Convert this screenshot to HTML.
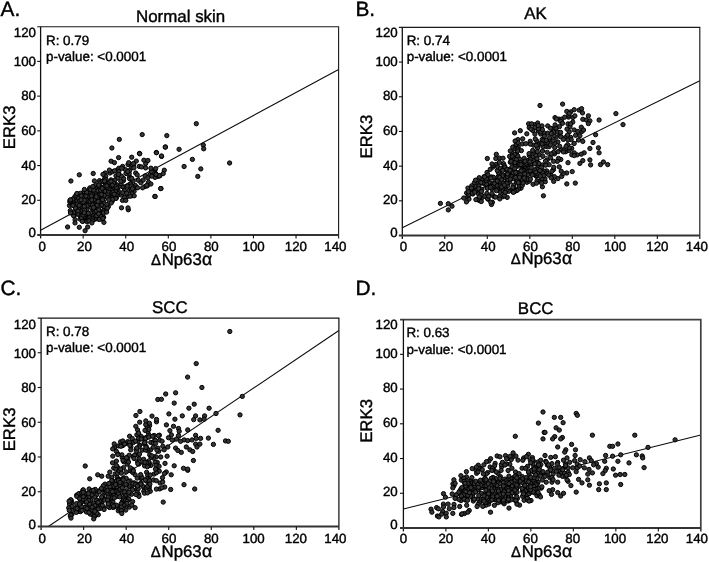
<!DOCTYPE html>
<html><head><meta charset="utf-8"><title>Figure</title>
<style>
html,body{margin:0;padding:0;background:#fff;}
body{width:709px;height:562px;overflow:hidden;font-family:"Liberation Sans",sans-serif;}
svg{display:block;filter:grayscale(1);}
text{font-family:"Liberation Sans",sans-serif;fill:#000;stroke:#000;stroke-width:0.4px;text-rendering:geometricPrecision;}
.tk{font-size:13.3px;}
.an{font-size:13.4px;}
.ti{font-size:16.9px;}
.ax{font-size:16.8px;}
.le{font-size:20.8px;}
.d circle{fill:#363636;stroke:#000;stroke-width:1.0;}
</style></head><body>
<svg width="709" height="562" viewBox="0 0 709 562">
<rect width="709" height="562" fill="#fff"/>

<g id="pA">
<line x1="40.60" y1="230.31" x2="338.60" y2="69.58" stroke="#0a0a0a" stroke-width="1.05"/>
<g class="d">
<circle cx="110.0" cy="183.8" r="2.15"/>
<circle cx="136.6" cy="187.4" r="2.15"/>
<circle cx="126.9" cy="196.7" r="2.15"/>
<circle cx="139.2" cy="166.4" r="2.15"/>
<circle cx="135.7" cy="173.0" r="2.15"/>
<circle cx="121.4" cy="195.1" r="2.15"/>
<circle cx="124.4" cy="187.4" r="2.15"/>
<circle cx="129.6" cy="176.8" r="2.15"/>
<circle cx="135.3" cy="185.5" r="2.15"/>
<circle cx="141.5" cy="166.9" r="2.15"/>
<circle cx="134.1" cy="191.3" r="2.15"/>
<circle cx="122.6" cy="166.4" r="2.15"/>
<circle cx="136.3" cy="161.1" r="2.15"/>
<circle cx="122.4" cy="186.7" r="2.15"/>
<circle cx="158.0" cy="176.4" r="2.15"/>
<circle cx="130.5" cy="188.2" r="2.15"/>
<circle cx="133.4" cy="187.1" r="2.15"/>
<circle cx="129.6" cy="178.8" r="2.15"/>
<circle cx="110.0" cy="173.0" r="2.15"/>
<circle cx="130.6" cy="184.0" r="2.15"/>
<circle cx="138.4" cy="180.3" r="2.15"/>
<circle cx="118.3" cy="191.0" r="2.15"/>
<circle cx="111.0" cy="179.9" r="2.15"/>
<circle cx="116.0" cy="175.8" r="2.15"/>
<circle cx="119.6" cy="186.0" r="2.15"/>
<circle cx="124.4" cy="190.6" r="2.15"/>
<circle cx="124.6" cy="197.5" r="2.15"/>
<circle cx="117.2" cy="188.5" r="2.15"/>
<circle cx="125.5" cy="169.7" r="2.15"/>
<circle cx="131.2" cy="168.2" r="2.15"/>
<circle cx="113.9" cy="194.8" r="2.15"/>
<circle cx="117.9" cy="178.1" r="2.15"/>
<circle cx="122.5" cy="200.4" r="2.15"/>
<circle cx="140.9" cy="182.7" r="2.15"/>
<circle cx="117.5" cy="169.8" r="2.15"/>
<circle cx="105.2" cy="173.0" r="2.15"/>
<circle cx="137.2" cy="174.8" r="2.15"/>
<circle cx="149.6" cy="175.3" r="2.15"/>
<circle cx="131.6" cy="195.8" r="2.15"/>
<circle cx="112.4" cy="171.6" r="2.15"/>
<circle cx="123.5" cy="180.6" r="2.15"/>
<circle cx="129.2" cy="173.7" r="2.15"/>
<circle cx="118.9" cy="168.2" r="2.15"/>
<circle cx="105.7" cy="176.2" r="2.15"/>
<circle cx="128.8" cy="190.8" r="2.15"/>
<circle cx="143.2" cy="180.1" r="2.15"/>
<circle cx="131.7" cy="190.4" r="2.15"/>
<circle cx="123.6" cy="178.5" r="2.15"/>
<circle cx="133.7" cy="164.3" r="2.15"/>
<circle cx="148.5" cy="182.3" r="2.15"/>
<circle cx="116.3" cy="184.6" r="2.15"/>
<circle cx="110.9" cy="186.9" r="2.15"/>
<circle cx="121.3" cy="176.0" r="2.15"/>
<circle cx="122.7" cy="192.8" r="2.15"/>
<circle cx="114.2" cy="190.9" r="2.15"/>
<circle cx="94.4" cy="180.9" r="2.15"/>
<circle cx="127.6" cy="186.2" r="2.15"/>
<circle cx="133.2" cy="181.0" r="2.15"/>
<circle cx="155.0" cy="177.4" r="2.15"/>
<circle cx="109.4" cy="170.1" r="2.15"/>
<circle cx="154.8" cy="170.4" r="2.15"/>
<circle cx="155.7" cy="173.6" r="2.15"/>
<circle cx="145.7" cy="163.5" r="2.15"/>
<circle cx="153.4" cy="172.6" r="2.15"/>
<circle cx="108.0" cy="185.6" r="2.15"/>
<circle cx="121.1" cy="183.8" r="2.15"/>
<circle cx="112.7" cy="189.1" r="2.15"/>
<circle cx="151.4" cy="171.5" r="2.15"/>
<circle cx="131.7" cy="164.7" r="2.15"/>
<circle cx="133.9" cy="167.8" r="2.15"/>
<circle cx="103.0" cy="174.4" r="2.15"/>
<circle cx="126.0" cy="173.5" r="2.15"/>
<circle cx="118.8" cy="171.5" r="2.15"/>
<circle cx="129.4" cy="170.7" r="2.15"/>
<circle cx="118.5" cy="174.4" r="2.15"/>
<circle cx="132.1" cy="193.8" r="2.15"/>
<circle cx="145.6" cy="167.9" r="2.15"/>
<circle cx="147.2" cy="185.9" r="2.15"/>
<circle cx="121.7" cy="168.3" r="2.15"/>
<circle cx="116.2" cy="198.2" r="2.15"/>
<circle cx="117.7" cy="195.4" r="2.15"/>
<circle cx="128.0" cy="164.5" r="2.15"/>
<circle cx="104.4" cy="181.7" r="2.15"/>
<circle cx="131.8" cy="178.4" r="2.15"/>
<circle cx="114.9" cy="180.2" r="2.15"/>
<circle cx="145.1" cy="175.9" r="2.15"/>
<circle cx="131.2" cy="186.1" r="2.15"/>
<circle cx="99.5" cy="180.7" r="2.15"/>
<circle cx="114.6" cy="170.8" r="2.15"/>
<circle cx="114.9" cy="186.5" r="2.15"/>
<circle cx="159.9" cy="175.8" r="2.15"/>
<circle cx="127.7" cy="171.6" r="2.15"/>
<circle cx="145.1" cy="186.5" r="2.15"/>
<circle cx="120.8" cy="181.3" r="2.15"/>
<circle cx="126.7" cy="193.2" r="2.15"/>
<circle cx="100.4" cy="211.6" r="2.15"/>
<circle cx="101.8" cy="219.0" r="2.15"/>
<circle cx="92.3" cy="188.4" r="2.15"/>
<circle cx="76.0" cy="214.2" r="2.15"/>
<circle cx="100.1" cy="182.7" r="2.15"/>
<circle cx="113.5" cy="186.6" r="2.15"/>
<circle cx="96.0" cy="208.6" r="2.15"/>
<circle cx="83.3" cy="193.7" r="2.15"/>
<circle cx="83.5" cy="205.1" r="2.15"/>
<circle cx="103.3" cy="192.6" r="2.15"/>
<circle cx="110.7" cy="199.3" r="2.15"/>
<circle cx="92.9" cy="209.8" r="2.15"/>
<circle cx="86.9" cy="203.9" r="2.15"/>
<circle cx="117.2" cy="192.9" r="2.15"/>
<circle cx="95.2" cy="213.1" r="2.15"/>
<circle cx="85.5" cy="205.4" r="2.15"/>
<circle cx="85.5" cy="220.1" r="2.15"/>
<circle cx="84.0" cy="191.6" r="2.15"/>
<circle cx="98.9" cy="215.5" r="2.15"/>
<circle cx="93.6" cy="216.1" r="2.15"/>
<circle cx="100.8" cy="213.7" r="2.15"/>
<circle cx="112.1" cy="190.6" r="2.15"/>
<circle cx="82.9" cy="195.7" r="2.15"/>
<circle cx="93.9" cy="192.7" r="2.15"/>
<circle cx="81.9" cy="213.4" r="2.15"/>
<circle cx="86.6" cy="213.6" r="2.15"/>
<circle cx="104.2" cy="207.9" r="2.15"/>
<circle cx="86.7" cy="209.8" r="2.15"/>
<circle cx="93.2" cy="212.9" r="2.15"/>
<circle cx="83.1" cy="221.1" r="2.15"/>
<circle cx="96.4" cy="188.5" r="2.15"/>
<circle cx="92.0" cy="215.1" r="2.15"/>
<circle cx="109.6" cy="193.1" r="2.15"/>
<circle cx="86.0" cy="216.3" r="2.15"/>
<circle cx="104.0" cy="210.5" r="2.15"/>
<circle cx="102.7" cy="196.5" r="2.15"/>
<circle cx="108.4" cy="206.6" r="2.15"/>
<circle cx="90.8" cy="207.3" r="2.15"/>
<circle cx="103.7" cy="206.4" r="2.15"/>
<circle cx="87.6" cy="205.5" r="2.15"/>
<circle cx="80.1" cy="219.1" r="2.15"/>
<circle cx="88.9" cy="189.9" r="2.15"/>
<circle cx="73.6" cy="215.8" r="2.15"/>
<circle cx="69.5" cy="205.6" r="2.15"/>
<circle cx="96.3" cy="192.7" r="2.15"/>
<circle cx="89.7" cy="214.9" r="2.15"/>
<circle cx="99.0" cy="203.2" r="2.15"/>
<circle cx="73.3" cy="203.3" r="2.15"/>
<circle cx="75.0" cy="206.3" r="2.15"/>
<circle cx="87.4" cy="197.0" r="2.15"/>
<circle cx="99.0" cy="189.0" r="2.15"/>
<circle cx="93.7" cy="196.3" r="2.15"/>
<circle cx="82.7" cy="199.1" r="2.15"/>
<circle cx="100.3" cy="197.6" r="2.15"/>
<circle cx="101.6" cy="205.1" r="2.15"/>
<circle cx="73.8" cy="212.4" r="2.15"/>
<circle cx="95.5" cy="198.6" r="2.15"/>
<circle cx="106.9" cy="204.5" r="2.15"/>
<circle cx="80.9" cy="198.2" r="2.15"/>
<circle cx="90.1" cy="203.8" r="2.15"/>
<circle cx="100.9" cy="199.4" r="2.15"/>
<circle cx="87.9" cy="195.2" r="2.15"/>
<circle cx="104.2" cy="197.1" r="2.15"/>
<circle cx="75.1" cy="199.2" r="2.15"/>
<circle cx="79.7" cy="215.2" r="2.15"/>
<circle cx="79.1" cy="207.1" r="2.15"/>
<circle cx="105.1" cy="183.1" r="2.15"/>
<circle cx="97.9" cy="211.6" r="2.15"/>
<circle cx="74.7" cy="197.0" r="2.15"/>
<circle cx="99.2" cy="199.7" r="2.15"/>
<circle cx="94.2" cy="219.5" r="2.15"/>
<circle cx="81.0" cy="212.0" r="2.15"/>
<circle cx="102.8" cy="181.1" r="2.15"/>
<circle cx="110.8" cy="183.3" r="2.15"/>
<circle cx="110.0" cy="197.1" r="2.15"/>
<circle cx="94.9" cy="204.6" r="2.15"/>
<circle cx="106.6" cy="195.3" r="2.15"/>
<circle cx="92.4" cy="218.5" r="2.15"/>
<circle cx="90.2" cy="198.6" r="2.15"/>
<circle cx="102.8" cy="190.4" r="2.15"/>
<circle cx="106.0" cy="184.4" r="2.15"/>
<circle cx="106.2" cy="210.4" r="2.15"/>
<circle cx="80.3" cy="208.3" r="2.15"/>
<circle cx="108.7" cy="196.0" r="2.15"/>
<circle cx="77.0" cy="200.6" r="2.15"/>
<circle cx="93.2" cy="203.6" r="2.15"/>
<circle cx="83.8" cy="197.8" r="2.15"/>
<circle cx="104.5" cy="179.0" r="2.15"/>
<circle cx="89.7" cy="191.5" r="2.15"/>
<circle cx="96.9" cy="218.8" r="2.15"/>
<circle cx="104.5" cy="189.3" r="2.15"/>
<circle cx="70.9" cy="212.6" r="2.15"/>
<circle cx="86.7" cy="192.3" r="2.15"/>
<circle cx="72.6" cy="201.7" r="2.15"/>
<circle cx="109.5" cy="182.3" r="2.15"/>
<circle cx="115.8" cy="198.4" r="2.15"/>
<circle cx="90.8" cy="212.8" r="2.15"/>
<circle cx="80.3" cy="193.3" r="2.15"/>
<circle cx="78.1" cy="214.1" r="2.15"/>
<circle cx="103.6" cy="217.2" r="2.15"/>
<circle cx="104.7" cy="195.5" r="2.15"/>
<circle cx="103.4" cy="201.3" r="2.15"/>
<circle cx="105.2" cy="191.2" r="2.15"/>
<circle cx="82.0" cy="210.4" r="2.15"/>
<circle cx="107.3" cy="208.2" r="2.15"/>
<circle cx="99.8" cy="186.6" r="2.15"/>
<circle cx="114.8" cy="188.0" r="2.15"/>
<circle cx="96.3" cy="195.2" r="2.15"/>
<circle cx="99.9" cy="194.9" r="2.15"/>
<circle cx="87.3" cy="218.4" r="2.15"/>
<circle cx="70.9" cy="203.3" r="2.15"/>
<circle cx="89.5" cy="196.7" r="2.15"/>
<circle cx="115.3" cy="191.0" r="2.15"/>
<circle cx="98.9" cy="207.1" r="2.15"/>
<circle cx="106.0" cy="179.7" r="2.15"/>
<circle cx="84.4" cy="216.6" r="2.15"/>
<circle cx="116.4" cy="187.5" r="2.15"/>
<circle cx="116.0" cy="194.7" r="2.15"/>
<circle cx="97.9" cy="190.7" r="2.15"/>
<circle cx="112.3" cy="201.1" r="2.15"/>
<circle cx="89.8" cy="187.9" r="2.15"/>
<circle cx="72.6" cy="199.2" r="2.15"/>
<circle cx="108.0" cy="193.7" r="2.15"/>
<circle cx="88.3" cy="213.3" r="2.15"/>
<circle cx="98.9" cy="219.1" r="2.15"/>
<circle cx="89.4" cy="217.8" r="2.15"/>
<circle cx="79.0" cy="196.5" r="2.15"/>
<circle cx="92.3" cy="190.2" r="2.15"/>
<circle cx="104.6" cy="181.0" r="2.15"/>
<circle cx="101.5" cy="194.4" r="2.15"/>
<circle cx="80.3" cy="203.4" r="2.15"/>
<circle cx="96.3" cy="211.1" r="2.15"/>
<circle cx="88.1" cy="220.1" r="2.15"/>
<circle cx="96.7" cy="215.7" r="2.15"/>
<circle cx="86.1" cy="200.0" r="2.15"/>
<circle cx="78.5" cy="198.1" r="2.15"/>
<circle cx="81.4" cy="215.7" r="2.15"/>
<circle cx="81.5" cy="217.9" r="2.15"/>
<circle cx="114.9" cy="185.1" r="2.15"/>
<circle cx="81.5" cy="206.3" r="2.15"/>
<circle cx="100.9" cy="216.4" r="2.15"/>
<circle cx="81.3" cy="195.9" r="2.15"/>
<circle cx="90.6" cy="189.6" r="2.15"/>
<circle cx="84.7" cy="214.8" r="2.15"/>
<circle cx="90.9" cy="219.8" r="2.15"/>
<circle cx="93.9" cy="190.1" r="2.15"/>
<circle cx="76.2" cy="209.5" r="2.15"/>
<circle cx="70.3" cy="210.6" r="2.15"/>
<circle cx="113.8" cy="183.0" r="2.15"/>
<circle cx="69.8" cy="201.9" r="2.15"/>
<circle cx="107.5" cy="197.6" r="2.15"/>
<circle cx="103.9" cy="187.0" r="2.15"/>
<circle cx="91.3" cy="196.0" r="2.15"/>
<circle cx="103.5" cy="212.9" r="2.15"/>
<circle cx="72.6" cy="205.2" r="2.15"/>
<circle cx="95.9" cy="184.8" r="2.15"/>
<circle cx="83.1" cy="215.1" r="2.15"/>
<circle cx="83.9" cy="208.6" r="2.15"/>
<circle cx="113.0" cy="192.2" r="2.15"/>
<circle cx="97.6" cy="198.0" r="2.15"/>
<circle cx="98.7" cy="185.0" r="2.15"/>
<circle cx="100.6" cy="190.1" r="2.15"/>
<circle cx="112.3" cy="185.1" r="2.15"/>
<circle cx="114.2" cy="194.2" r="2.15"/>
<circle cx="102.3" cy="188.2" r="2.15"/>
<circle cx="108.6" cy="191.2" r="2.15"/>
<circle cx="70.0" cy="200.2" r="2.15"/>
<circle cx="109.1" cy="187.2" r="2.15"/>
<circle cx="108.8" cy="188.7" r="2.15"/>
<circle cx="87.0" cy="221.7" r="2.15"/>
<circle cx="84.3" cy="206.5" r="2.15"/>
<circle cx="98.8" cy="209.8" r="2.15"/>
<circle cx="92.1" cy="202.4" r="2.15"/>
<circle cx="97.1" cy="205.2" r="2.15"/>
<circle cx="92.4" cy="205.0" r="2.15"/>
<circle cx="75.5" cy="208.1" r="2.15"/>
<circle cx="107.3" cy="187.4" r="2.15"/>
<circle cx="92.3" cy="220.8" r="2.15"/>
<circle cx="84.6" cy="210.3" r="2.15"/>
<circle cx="93.6" cy="207.6" r="2.15"/>
<circle cx="84.4" cy="200.2" r="2.15"/>
<circle cx="84.2" cy="212.8" r="2.15"/>
<circle cx="90.1" cy="201.2" r="2.15"/>
<circle cx="100.3" cy="201.3" r="2.15"/>
<circle cx="112.5" cy="199.4" r="2.15"/>
<circle cx="79.4" cy="201.0" r="2.15"/>
<circle cx="106.6" cy="212.1" r="2.15"/>
<circle cx="86.0" cy="196.1" r="2.15"/>
<circle cx="108.8" cy="199.9" r="2.15"/>
<circle cx="94.1" cy="199.7" r="2.15"/>
<circle cx="105.1" cy="185.9" r="2.15"/>
<circle cx="77.3" cy="204.0" r="2.15"/>
<circle cx="98.7" cy="213.8" r="2.15"/>
<circle cx="79.2" cy="205.4" r="2.15"/>
<circle cx="81.1" cy="199.9" r="2.15"/>
<circle cx="98.2" cy="201.5" r="2.15"/>
<circle cx="111.0" cy="181.3" r="2.15"/>
<circle cx="78.0" cy="211.0" r="2.15"/>
<circle cx="96.3" cy="196.8" r="2.15"/>
<circle cx="75.1" cy="219.7" r="2.15"/>
<circle cx="91.8" cy="200.0" r="2.15"/>
<circle cx="102.6" cy="199.7" r="2.15"/>
<circle cx="111.2" cy="203.0" r="2.15"/>
<circle cx="106.8" cy="185.9" r="2.15"/>
<circle cx="76.0" cy="195.2" r="2.15"/>
<circle cx="111.9" cy="148.0" r="2.15"/>
<circle cx="165.5" cy="147.0" r="2.15"/>
<circle cx="139.5" cy="153.4" r="2.15"/>
<circle cx="156.3" cy="152.5" r="2.15"/>
<circle cx="161.6" cy="156.4" r="2.15"/>
<circle cx="118.6" cy="157.6" r="2.15"/>
<circle cx="111.1" cy="161.2" r="2.15"/>
<circle cx="114.4" cy="162.6" r="2.15"/>
<circle cx="79.3" cy="174.8" r="2.15"/>
<circle cx="93.2" cy="173.5" r="2.15"/>
<circle cx="70.9" cy="181.0" r="2.15"/>
<circle cx="161.0" cy="188.5" r="2.15"/>
<circle cx="154.9" cy="196.4" r="2.15"/>
<circle cx="121.5" cy="207.8" r="2.15"/>
<circle cx="128.3" cy="209.8" r="2.15"/>
<circle cx="67.6" cy="227.0" r="2.15"/>
<circle cx="79.3" cy="227.3" r="2.15"/>
<circle cx="85.1" cy="230.7" r="2.15"/>
<circle cx="87.7" cy="227.0" r="2.15"/>
<circle cx="196.3" cy="123.7" r="2.15"/>
<circle cx="142.2" cy="134.6" r="2.15"/>
<circle cx="166.8" cy="135.6" r="2.15"/>
<circle cx="165.2" cy="147.1" r="2.15"/>
<circle cx="179.1" cy="149.3" r="2.15"/>
<circle cx="203.3" cy="145.1" r="2.15"/>
<circle cx="203.7" cy="148.8" r="2.15"/>
<circle cx="156.5" cy="152.7" r="2.15"/>
<circle cx="139.7" cy="153.8" r="2.15"/>
<circle cx="161.5" cy="156.0" r="2.15"/>
<circle cx="192.4" cy="159.4" r="2.15"/>
<circle cx="229.6" cy="163.0" r="2.15"/>
<circle cx="184.1" cy="166.5" r="2.15"/>
<circle cx="200.8" cy="168.9" r="2.15"/>
<circle cx="197.8" cy="176.4" r="2.15"/>
<circle cx="131.7" cy="157.2" r="2.15"/>
<circle cx="143.9" cy="160.2" r="2.15"/>
<circle cx="147.9" cy="160.5" r="2.15"/>
<circle cx="128.7" cy="162.7" r="2.15"/>
<circle cx="133.4" cy="163.5" r="2.15"/>
<circle cx="155.6" cy="168.6" r="2.15"/>
<circle cx="164.3" cy="170.2" r="2.15"/>
<circle cx="150.9" cy="168.2" r="2.15"/>
<circle cx="163.2" cy="173.6" r="2.15"/>
<circle cx="159.3" cy="175.6" r="2.15"/>
<circle cx="151.8" cy="176.1" r="2.15"/>
<circle cx="147.9" cy="177.8" r="2.15"/>
<circle cx="156.0" cy="174.4" r="2.15"/>
<circle cx="150.9" cy="184.0" r="2.15"/>
<circle cx="146.8" cy="185.3" r="2.15"/>
<circle cx="160.6" cy="188.6" r="2.15"/>
<circle cx="142.6" cy="187.8" r="2.15"/>
<circle cx="137.6" cy="187.8" r="2.15"/>
<circle cx="132.5" cy="188.6" r="2.15"/>
<circle cx="155.1" cy="196.5" r="2.15"/>
<circle cx="134.2" cy="195.8" r="2.15"/>
<circle cx="130.0" cy="196.2" r="2.15"/>
<circle cx="128.0" cy="207.9" r="2.15"/>
<circle cx="125.8" cy="200.4" r="2.15"/>
<circle cx="119.3" cy="139.4" r="2.15"/>
<circle cx="75.0" cy="222.9" r="2.15"/>
<circle cx="82.4" cy="221.4" r="2.15"/>
<circle cx="88.9" cy="220.9" r="2.15"/>
<circle cx="91.9" cy="222.9" r="2.15"/>
<circle cx="103.9" cy="222.4" r="2.15"/>
<circle cx="99.4" cy="219.4" r="2.15"/>
<circle cx="102.9" cy="218.4" r="2.15"/>
<circle cx="70.5" cy="199.9" r="2.15"/>
<circle cx="76.9" cy="193.5" r="2.15"/>
<circle cx="84.4" cy="189.5" r="2.15"/>
<circle cx="92.9" cy="186.5" r="2.15"/>
<circle cx="70.5" cy="212.9" r="2.15"/>
<circle cx="73.0" cy="205.4" r="2.15"/>
</g>
<path d="M37.20 26.70H338.60V238.40" fill="none" stroke="#1a1a1a" stroke-width="1.1"/>
<path d="M40.60 26.70V238.40" fill="none" stroke="#111" stroke-width="1.3"/>
<path d="M37.20 235.00H338.60" fill="none" stroke="#333" stroke-width="1.8"/>
<path d="M83.17 235.00v3.4" stroke="#111" stroke-width="1.1"/>
<path d="M125.74 235.00v3.4" stroke="#111" stroke-width="1.1"/>
<path d="M168.31 235.00v3.4" stroke="#111" stroke-width="1.1"/>
<path d="M210.89 235.00v3.4" stroke="#111" stroke-width="1.1"/>
<path d="M253.46 235.00v3.4" stroke="#111" stroke-width="1.1"/>
<path d="M296.03 235.00v3.4" stroke="#111" stroke-width="1.1"/>
<path d="M40.60 200.28h-3.4" stroke="#111" stroke-width="1.1"/>
<path d="M40.60 165.57h-3.4" stroke="#111" stroke-width="1.1"/>
<path d="M40.60 130.85h-3.4" stroke="#111" stroke-width="1.1"/>
<path d="M40.60 96.13h-3.4" stroke="#111" stroke-width="1.1"/>
<path d="M40.60 61.42h-3.4" stroke="#111" stroke-width="1.1"/>
<text class="tk" x="42.10" y="250.85" text-anchor="middle">0</text>
<text class="tk" x="84.40" y="250.85" text-anchor="middle">20</text>
<text class="tk" x="126.70" y="250.85" text-anchor="middle">40</text>
<text class="tk" x="169.00" y="250.85" text-anchor="middle">60</text>
<text class="tk" x="211.30" y="250.85" text-anchor="middle">80</text>
<text class="tk" x="253.60" y="250.85" text-anchor="middle">100</text>
<text class="tk" x="295.90" y="250.85" text-anchor="middle">120</text>
<text class="tk" x="335.40" y="250.85" text-anchor="middle">140</text>
<text class="tk" x="36.00" y="237.20" text-anchor="end">0</text>
<text class="tk" x="36.00" y="204.48" text-anchor="end">20</text>
<text class="tk" x="36.00" y="169.77" text-anchor="end">40</text>
<text class="tk" x="36.00" y="135.05" text-anchor="end">60</text>
<text class="tk" x="36.00" y="100.34" text-anchor="end">80</text>
<text class="tk" x="36.00" y="65.62" text-anchor="end">100</text>
<text class="tk" x="36.00" y="37.30" text-anchor="end">120</text>
<text class="an" x="46.00" y="44.60">R: 0.79</text>
<text class="an" x="46.00" y="61.10">p-value: &lt;0.0001</text>
<text class="ti" x="180.60" y="22.00" text-anchor="middle">Normal skin</text>
<text class="ax" x="181.60" y="264.60" text-anchor="middle"><tspan font-size="14.9px">&#916;</tspan><tspan dx="0.8">Np63</tspan><tspan dx="0.3" font-size="17.6px">&#945;</tspan></text>
<text class="ax" transform="translate(14.70 127.30) rotate(-90)" text-anchor="middle">ERK3</text>
<text class="le" x="0.60" y="15.90">A.</text>
</g>
<g id="pB">
<line x1="402.30" y1="227.70" x2="699.80" y2="80.81" stroke="#0a0a0a" stroke-width="1.05"/>
<g class="d">
<circle cx="539.7" cy="143.5" r="2.15"/>
<circle cx="545.9" cy="146.6" r="2.15"/>
<circle cx="466.6" cy="192.9" r="2.15"/>
<circle cx="505.7" cy="188.7" r="2.15"/>
<circle cx="546.6" cy="170.9" r="2.15"/>
<circle cx="561.3" cy="149.7" r="2.15"/>
<circle cx="547.2" cy="152.3" r="2.15"/>
<circle cx="496.1" cy="164.4" r="2.15"/>
<circle cx="572.8" cy="122.1" r="2.15"/>
<circle cx="506.5" cy="176.6" r="2.15"/>
<circle cx="528.6" cy="123.8" r="2.15"/>
<circle cx="547.7" cy="133.2" r="2.15"/>
<circle cx="522.3" cy="143.9" r="2.15"/>
<circle cx="536.7" cy="168.8" r="2.15"/>
<circle cx="467.7" cy="197.0" r="2.15"/>
<circle cx="518.3" cy="146.9" r="2.15"/>
<circle cx="478.0" cy="191.9" r="2.15"/>
<circle cx="529.3" cy="155.4" r="2.15"/>
<circle cx="499.2" cy="189.9" r="2.15"/>
<circle cx="484.6" cy="184.2" r="2.15"/>
<circle cx="498.4" cy="176.3" r="2.15"/>
<circle cx="490.2" cy="169.4" r="2.15"/>
<circle cx="571.8" cy="154.8" r="2.15"/>
<circle cx="568.0" cy="123.9" r="2.15"/>
<circle cx="482.2" cy="197.5" r="2.15"/>
<circle cx="481.5" cy="189.7" r="2.15"/>
<circle cx="557.9" cy="142.0" r="2.15"/>
<circle cx="479.2" cy="198.1" r="2.15"/>
<circle cx="528.1" cy="165.3" r="2.15"/>
<circle cx="534.6" cy="160.2" r="2.15"/>
<circle cx="568.0" cy="162.7" r="2.15"/>
<circle cx="537.1" cy="162.5" r="2.15"/>
<circle cx="525.9" cy="168.3" r="2.15"/>
<circle cx="536.2" cy="176.3" r="2.15"/>
<circle cx="539.3" cy="154.8" r="2.15"/>
<circle cx="566.7" cy="173.0" r="2.15"/>
<circle cx="492.4" cy="202.3" r="2.15"/>
<circle cx="536.7" cy="140.9" r="2.15"/>
<circle cx="507.2" cy="179.2" r="2.15"/>
<circle cx="542.5" cy="151.0" r="2.15"/>
<circle cx="509.2" cy="169.4" r="2.15"/>
<circle cx="469.6" cy="193.3" r="2.15"/>
<circle cx="510.3" cy="162.3" r="2.15"/>
<circle cx="538.4" cy="130.8" r="2.15"/>
<circle cx="505.2" cy="183.0" r="2.15"/>
<circle cx="534.4" cy="124.7" r="2.15"/>
<circle cx="542.0" cy="125.9" r="2.15"/>
<circle cx="510.9" cy="190.3" r="2.15"/>
<circle cx="554.7" cy="147.5" r="2.15"/>
<circle cx="472.3" cy="191.2" r="2.15"/>
<circle cx="559.9" cy="135.2" r="2.15"/>
<circle cx="516.7" cy="154.5" r="2.15"/>
<circle cx="547.2" cy="159.9" r="2.15"/>
<circle cx="557.9" cy="178.6" r="2.15"/>
<circle cx="517.9" cy="139.6" r="2.15"/>
<circle cx="482.0" cy="179.4" r="2.15"/>
<circle cx="561.7" cy="176.4" r="2.15"/>
<circle cx="553.5" cy="169.6" r="2.15"/>
<circle cx="499.3" cy="180.0" r="2.15"/>
<circle cx="533.5" cy="145.2" r="2.15"/>
<circle cx="551.9" cy="171.3" r="2.15"/>
<circle cx="570.7" cy="137.4" r="2.15"/>
<circle cx="499.8" cy="174.2" r="2.15"/>
<circle cx="529.1" cy="153.6" r="2.15"/>
<circle cx="526.8" cy="133.8" r="2.15"/>
<circle cx="479.4" cy="189.1" r="2.15"/>
<circle cx="494.2" cy="196.8" r="2.15"/>
<circle cx="533.1" cy="152.1" r="2.15"/>
<circle cx="506.9" cy="191.1" r="2.15"/>
<circle cx="477.6" cy="199.7" r="2.15"/>
<circle cx="515.3" cy="146.3" r="2.15"/>
<circle cx="547.7" cy="143.0" r="2.15"/>
<circle cx="474.8" cy="190.5" r="2.15"/>
<circle cx="499.3" cy="158.1" r="2.15"/>
<circle cx="527.0" cy="182.3" r="2.15"/>
<circle cx="530.2" cy="141.3" r="2.15"/>
<circle cx="498.5" cy="172.6" r="2.15"/>
<circle cx="542.9" cy="146.4" r="2.15"/>
<circle cx="571.7" cy="148.3" r="2.15"/>
<circle cx="538.0" cy="144.7" r="2.15"/>
<circle cx="534.9" cy="170.0" r="2.15"/>
<circle cx="530.4" cy="165.7" r="2.15"/>
<circle cx="537.7" cy="175.2" r="2.15"/>
<circle cx="528.0" cy="162.2" r="2.15"/>
<circle cx="556.1" cy="137.3" r="2.15"/>
<circle cx="497.3" cy="170.6" r="2.15"/>
<circle cx="538.0" cy="165.3" r="2.15"/>
<circle cx="493.0" cy="167.1" r="2.15"/>
<circle cx="565.0" cy="137.7" r="2.15"/>
<circle cx="534.1" cy="174.5" r="2.15"/>
<circle cx="489.2" cy="186.7" r="2.15"/>
<circle cx="535.1" cy="127.5" r="2.15"/>
<circle cx="492.7" cy="183.1" r="2.15"/>
<circle cx="491.5" cy="204.5" r="2.15"/>
<circle cx="516.2" cy="144.4" r="2.15"/>
<circle cx="512.9" cy="189.2" r="2.15"/>
<circle cx="530.4" cy="144.2" r="2.15"/>
<circle cx="521.0" cy="188.2" r="2.15"/>
<circle cx="469.0" cy="199.1" r="2.15"/>
<circle cx="487.0" cy="187.3" r="2.15"/>
<circle cx="550.4" cy="139.8" r="2.15"/>
<circle cx="513.7" cy="185.3" r="2.15"/>
<circle cx="489.1" cy="182.3" r="2.15"/>
<circle cx="542.2" cy="139.5" r="2.15"/>
<circle cx="565.7" cy="151.7" r="2.15"/>
<circle cx="521.9" cy="169.0" r="2.15"/>
<circle cx="559.0" cy="119.1" r="2.15"/>
<circle cx="503.5" cy="163.7" r="2.15"/>
<circle cx="570.0" cy="126.9" r="2.15"/>
<circle cx="494.2" cy="187.9" r="2.15"/>
<circle cx="552.3" cy="128.7" r="2.15"/>
<circle cx="497.7" cy="167.0" r="2.15"/>
<circle cx="508.5" cy="174.9" r="2.15"/>
<circle cx="541.9" cy="170.9" r="2.15"/>
<circle cx="484.1" cy="176.6" r="2.15"/>
<circle cx="544.3" cy="142.7" r="2.15"/>
<circle cx="515.1" cy="157.4" r="2.15"/>
<circle cx="519.4" cy="158.8" r="2.15"/>
<circle cx="522.4" cy="165.3" r="2.15"/>
<circle cx="558.1" cy="151.7" r="2.15"/>
<circle cx="532.8" cy="130.5" r="2.15"/>
<circle cx="480.0" cy="192.8" r="2.15"/>
<circle cx="500.7" cy="188.6" r="2.15"/>
<circle cx="535.3" cy="138.9" r="2.15"/>
<circle cx="554.8" cy="143.0" r="2.15"/>
<circle cx="542.6" cy="165.0" r="2.15"/>
<circle cx="570.8" cy="111.8" r="2.15"/>
<circle cx="547.2" cy="173.4" r="2.15"/>
<circle cx="524.2" cy="158.3" r="2.15"/>
<circle cx="493.1" cy="165.4" r="2.15"/>
<circle cx="479.8" cy="200.7" r="2.15"/>
<circle cx="569.3" cy="131.8" r="2.15"/>
<circle cx="520.3" cy="130.7" r="2.15"/>
<circle cx="550.5" cy="157.7" r="2.15"/>
<circle cx="529.2" cy="181.2" r="2.15"/>
<circle cx="509.8" cy="182.0" r="2.15"/>
<circle cx="499.4" cy="162.4" r="2.15"/>
<circle cx="492.1" cy="195.1" r="2.15"/>
<circle cx="571.2" cy="139.7" r="2.15"/>
<circle cx="563.2" cy="173.5" r="2.15"/>
<circle cx="525.0" cy="179.5" r="2.15"/>
<circle cx="554.4" cy="176.7" r="2.15"/>
<circle cx="554.0" cy="135.7" r="2.15"/>
<circle cx="474.3" cy="182.8" r="2.15"/>
<circle cx="501.9" cy="178.6" r="2.15"/>
<circle cx="521.4" cy="150.6" r="2.15"/>
<circle cx="511.5" cy="177.5" r="2.15"/>
<circle cx="492.0" cy="193.3" r="2.15"/>
<circle cx="491.7" cy="177.0" r="2.15"/>
<circle cx="471.7" cy="185.8" r="2.15"/>
<circle cx="512.8" cy="147.1" r="2.15"/>
<circle cx="528.5" cy="160.2" r="2.15"/>
<circle cx="572.2" cy="171.6" r="2.15"/>
<circle cx="570.6" cy="123.9" r="2.15"/>
<circle cx="504.7" cy="177.3" r="2.15"/>
<circle cx="537.7" cy="123.0" r="2.15"/>
<circle cx="568.6" cy="117.1" r="2.15"/>
<circle cx="569.3" cy="150.5" r="2.15"/>
<circle cx="555.0" cy="117.6" r="2.15"/>
<circle cx="519.3" cy="186.1" r="2.15"/>
<circle cx="520.1" cy="181.1" r="2.15"/>
<circle cx="523.9" cy="164.4" r="2.15"/>
<circle cx="561.2" cy="171.2" r="2.15"/>
<circle cx="506.4" cy="169.8" r="2.15"/>
<circle cx="522.3" cy="185.3" r="2.15"/>
<circle cx="553.8" cy="132.0" r="2.15"/>
<circle cx="527.7" cy="169.2" r="2.15"/>
<circle cx="487.0" cy="172.5" r="2.15"/>
<circle cx="517.7" cy="156.0" r="2.15"/>
<circle cx="545.5" cy="161.1" r="2.15"/>
<circle cx="537.6" cy="148.0" r="2.15"/>
<circle cx="522.5" cy="176.8" r="2.15"/>
<circle cx="538.4" cy="128.8" r="2.15"/>
<circle cx="479.0" cy="184.7" r="2.15"/>
<circle cx="554.5" cy="153.9" r="2.15"/>
<circle cx="567.5" cy="135.1" r="2.15"/>
<circle cx="523.7" cy="170.7" r="2.15"/>
<circle cx="557.7" cy="132.0" r="2.15"/>
<circle cx="484.7" cy="196.2" r="2.15"/>
<circle cx="539.0" cy="181.2" r="2.15"/>
<circle cx="533.1" cy="156.8" r="2.15"/>
<circle cx="515.7" cy="148.9" r="2.15"/>
<circle cx="550.8" cy="175.3" r="2.15"/>
<circle cx="536.0" cy="155.5" r="2.15"/>
<circle cx="553.1" cy="140.8" r="2.15"/>
<circle cx="514.4" cy="154.4" r="2.15"/>
<circle cx="522.8" cy="162.4" r="2.15"/>
<circle cx="503.4" cy="189.8" r="2.15"/>
<circle cx="534.9" cy="134.1" r="2.15"/>
<circle cx="504.4" cy="165.7" r="2.15"/>
<circle cx="488.0" cy="199.2" r="2.15"/>
<circle cx="548.8" cy="175.1" r="2.15"/>
<circle cx="514.8" cy="189.3" r="2.15"/>
<circle cx="543.7" cy="132.8" r="2.15"/>
<circle cx="522.7" cy="138.8" r="2.15"/>
<circle cx="517.5" cy="166.2" r="2.15"/>
<circle cx="556.0" cy="128.2" r="2.15"/>
<circle cx="561.8" cy="119.1" r="2.15"/>
<circle cx="472.8" cy="194.0" r="2.15"/>
<circle cx="495.8" cy="180.4" r="2.15"/>
<circle cx="568.7" cy="115.4" r="2.15"/>
<circle cx="514.6" cy="164.5" r="2.15"/>
<circle cx="560.8" cy="121.4" r="2.15"/>
<circle cx="513.9" cy="171.5" r="2.15"/>
<circle cx="544.4" cy="136.2" r="2.15"/>
<circle cx="549.5" cy="137.8" r="2.15"/>
<circle cx="500.6" cy="192.2" r="2.15"/>
<circle cx="542.4" cy="186.8" r="2.15"/>
<circle cx="529.2" cy="127.6" r="2.15"/>
<circle cx="547.7" cy="125.9" r="2.15"/>
<circle cx="486.6" cy="177.1" r="2.15"/>
<circle cx="511.2" cy="158.9" r="2.15"/>
<circle cx="498.7" cy="185.0" r="2.15"/>
<circle cx="549.0" cy="146.7" r="2.15"/>
<circle cx="544.0" cy="171.1" r="2.15"/>
<circle cx="559.7" cy="146.3" r="2.15"/>
<circle cx="560.8" cy="136.8" r="2.15"/>
<circle cx="572.9" cy="117.5" r="2.15"/>
<circle cx="531.6" cy="123.8" r="2.15"/>
<circle cx="553.6" cy="152.2" r="2.15"/>
<circle cx="507.2" cy="197.4" r="2.15"/>
<circle cx="502.9" cy="196.7" r="2.15"/>
<circle cx="538.3" cy="125.5" r="2.15"/>
<circle cx="486.5" cy="184.1" r="2.15"/>
<circle cx="551.2" cy="177.8" r="2.15"/>
<circle cx="569.2" cy="147.8" r="2.15"/>
<circle cx="467.9" cy="188.1" r="2.15"/>
<circle cx="515.1" cy="166.5" r="2.15"/>
<circle cx="537.3" cy="151.6" r="2.15"/>
<circle cx="516.6" cy="182.2" r="2.15"/>
<circle cx="497.1" cy="188.8" r="2.15"/>
<circle cx="549.2" cy="164.7" r="2.15"/>
<circle cx="564.7" cy="117.2" r="2.15"/>
<circle cx="566.8" cy="111.4" r="2.15"/>
<circle cx="545.3" cy="181.7" r="2.15"/>
<circle cx="517.7" cy="149.0" r="2.15"/>
<circle cx="556.4" cy="119.0" r="2.15"/>
<circle cx="551.2" cy="153.9" r="2.15"/>
<circle cx="536.2" cy="145.3" r="2.15"/>
<circle cx="542.8" cy="156.1" r="2.15"/>
<circle cx="517.6" cy="151.0" r="2.15"/>
<circle cx="512.3" cy="174.6" r="2.15"/>
<circle cx="537.0" cy="180.9" r="2.15"/>
<circle cx="478.6" cy="194.1" r="2.15"/>
<circle cx="550.4" cy="144.9" r="2.15"/>
<circle cx="528.1" cy="179.3" r="2.15"/>
<circle cx="518.0" cy="162.5" r="2.15"/>
<circle cx="507.8" cy="185.7" r="2.15"/>
<circle cx="545.7" cy="165.2" r="2.15"/>
<circle cx="537.0" cy="158.7" r="2.15"/>
<circle cx="517.9" cy="142.7" r="2.15"/>
<circle cx="560.8" cy="159.5" r="2.15"/>
<circle cx="503.0" cy="158.2" r="2.15"/>
<circle cx="553.8" cy="167.3" r="2.15"/>
<circle cx="559.5" cy="126.6" r="2.15"/>
<circle cx="483.1" cy="183.0" r="2.15"/>
<circle cx="511.8" cy="152.0" r="2.15"/>
<circle cx="505.0" cy="167.3" r="2.15"/>
<circle cx="567.0" cy="129.1" r="2.15"/>
<circle cx="567.6" cy="144.7" r="2.15"/>
<circle cx="490.7" cy="202.2" r="2.15"/>
<circle cx="479.2" cy="177.7" r="2.15"/>
<circle cx="550.5" cy="128.2" r="2.15"/>
<circle cx="540.7" cy="134.0" r="2.15"/>
<circle cx="517.2" cy="172.8" r="2.15"/>
<circle cx="555.1" cy="124.9" r="2.15"/>
<circle cx="544.9" cy="178.7" r="2.15"/>
<circle cx="524.6" cy="175.5" r="2.15"/>
<circle cx="476.2" cy="186.2" r="2.15"/>
<circle cx="518.5" cy="181.8" r="2.15"/>
<circle cx="564.0" cy="149.8" r="2.15"/>
<circle cx="540.9" cy="131.9" r="2.15"/>
<circle cx="495.8" cy="158.5" r="2.15"/>
<circle cx="504.4" cy="195.5" r="2.15"/>
<circle cx="543.8" cy="140.3" r="2.15"/>
<circle cx="541.6" cy="183.1" r="2.15"/>
<circle cx="559.3" cy="166.9" r="2.15"/>
<circle cx="489.1" cy="177.2" r="2.15"/>
<circle cx="532.7" cy="150.4" r="2.15"/>
<circle cx="542.0" cy="143.9" r="2.15"/>
<circle cx="562.5" cy="123.3" r="2.15"/>
<circle cx="488.1" cy="179.3" r="2.15"/>
<circle cx="558.5" cy="158.5" r="2.15"/>
<circle cx="510.3" cy="150.9" r="2.15"/>
<circle cx="525.9" cy="163.3" r="2.15"/>
<circle cx="487.9" cy="174.9" r="2.15"/>
<circle cx="538.9" cy="163.5" r="2.15"/>
<circle cx="542.4" cy="129.6" r="2.15"/>
<circle cx="541.9" cy="178.5" r="2.15"/>
<circle cx="560.6" cy="132.4" r="2.15"/>
<circle cx="503.0" cy="175.7" r="2.15"/>
<circle cx="481.2" cy="194.6" r="2.15"/>
<circle cx="546.2" cy="140.4" r="2.15"/>
<circle cx="499.7" cy="177.5" r="2.15"/>
<circle cx="471.5" cy="188.0" r="2.15"/>
<circle cx="520.2" cy="174.9" r="2.15"/>
<circle cx="509.6" cy="156.4" r="2.15"/>
<circle cx="567.9" cy="139.9" r="2.15"/>
<circle cx="542.6" cy="172.8" r="2.15"/>
<circle cx="530.7" cy="172.6" r="2.15"/>
<circle cx="486.1" cy="180.8" r="2.15"/>
<circle cx="569.3" cy="113.5" r="2.15"/>
<circle cx="492.0" cy="164.0" r="2.15"/>
<circle cx="499.6" cy="182.2" r="2.15"/>
<circle cx="486.9" cy="193.4" r="2.15"/>
<circle cx="494.7" cy="186.2" r="2.15"/>
<circle cx="512.5" cy="156.6" r="2.15"/>
<circle cx="520.6" cy="162.7" r="2.15"/>
<circle cx="557.3" cy="161.4" r="2.15"/>
<circle cx="563.4" cy="139.4" r="2.15"/>
<circle cx="553.7" cy="181.4" r="2.15"/>
<circle cx="566.1" cy="146.3" r="2.15"/>
<circle cx="553.6" cy="161.3" r="2.15"/>
<circle cx="551.2" cy="133.5" r="2.15"/>
<circle cx="530.4" cy="179.2" r="2.15"/>
<circle cx="530.9" cy="129.1" r="2.15"/>
<circle cx="516.6" cy="190.3" r="2.15"/>
<circle cx="512.9" cy="187.4" r="2.15"/>
<circle cx="563.5" cy="151.9" r="2.15"/>
<circle cx="514.5" cy="159.1" r="2.15"/>
<circle cx="515.1" cy="141.0" r="2.15"/>
<circle cx="486.3" cy="178.8" r="2.15"/>
<circle cx="525.8" cy="143.7" r="2.15"/>
<circle cx="515.3" cy="173.6" r="2.15"/>
<circle cx="516.3" cy="159.6" r="2.15"/>
<circle cx="500.6" cy="182.5" r="2.15"/>
<circle cx="501.7" cy="179.9" r="2.15"/>
<circle cx="477.2" cy="180.2" r="2.15"/>
<circle cx="530.4" cy="159.5" r="2.15"/>
<circle cx="469.0" cy="194.8" r="2.15"/>
<circle cx="514.9" cy="162.7" r="2.15"/>
<circle cx="499.6" cy="196.5" r="2.15"/>
<circle cx="517.0" cy="179.6" r="2.15"/>
<circle cx="522.9" cy="170.4" r="2.15"/>
<circle cx="528.0" cy="174.6" r="2.15"/>
<circle cx="479.4" cy="199.8" r="2.15"/>
<circle cx="529.1" cy="168.2" r="2.15"/>
<circle cx="530.7" cy="163.7" r="2.15"/>
<circle cx="525.0" cy="161.3" r="2.15"/>
<circle cx="487.6" cy="198.6" r="2.15"/>
<circle cx="495.5" cy="197.1" r="2.15"/>
<circle cx="528.6" cy="171.1" r="2.15"/>
<circle cx="512.0" cy="166.9" r="2.15"/>
<circle cx="493.5" cy="177.3" r="2.15"/>
<circle cx="503.3" cy="183.2" r="2.15"/>
<circle cx="513.8" cy="175.7" r="2.15"/>
<circle cx="481.9" cy="189.7" r="2.15"/>
<circle cx="533.1" cy="184.3" r="2.15"/>
<circle cx="476.4" cy="190.4" r="2.15"/>
<circle cx="481.0" cy="182.5" r="2.15"/>
<circle cx="514.7" cy="168.7" r="2.15"/>
<circle cx="484.6" cy="176.9" r="2.15"/>
<circle cx="511.1" cy="161.4" r="2.15"/>
<circle cx="518.5" cy="189.0" r="2.15"/>
<circle cx="503.2" cy="190.9" r="2.15"/>
<circle cx="508.8" cy="191.3" r="2.15"/>
<circle cx="491.8" cy="188.7" r="2.15"/>
<circle cx="537.2" cy="175.5" r="2.15"/>
<circle cx="536.5" cy="183.2" r="2.15"/>
<circle cx="494.5" cy="183.6" r="2.15"/>
<circle cx="524.7" cy="174.1" r="2.15"/>
<circle cx="511.8" cy="176.6" r="2.15"/>
<circle cx="468.4" cy="191.9" r="2.15"/>
<circle cx="513.6" cy="178.6" r="2.15"/>
<circle cx="522.1" cy="179.4" r="2.15"/>
<circle cx="541.5" cy="167.5" r="2.15"/>
<circle cx="487.4" cy="188.4" r="2.15"/>
<circle cx="475.9" cy="199.6" r="2.15"/>
<circle cx="499.7" cy="198.9" r="2.15"/>
<circle cx="519.3" cy="164.7" r="2.15"/>
<circle cx="538.0" cy="173.9" r="2.15"/>
<circle cx="500.4" cy="168.5" r="2.15"/>
<circle cx="497.2" cy="185.8" r="2.15"/>
<circle cx="488.6" cy="196.3" r="2.15"/>
<circle cx="463.8" cy="198.0" r="2.15"/>
<circle cx="523.0" cy="183.0" r="2.15"/>
<circle cx="500.1" cy="186.0" r="2.15"/>
<circle cx="520.9" cy="164.7" r="2.15"/>
<circle cx="501.6" cy="187.0" r="2.15"/>
<circle cx="517.1" cy="190.3" r="2.15"/>
<circle cx="530.2" cy="170.7" r="2.15"/>
<circle cx="535.9" cy="172.1" r="2.15"/>
<circle cx="529.9" cy="161.8" r="2.15"/>
<circle cx="506.2" cy="190.6" r="2.15"/>
<circle cx="507.1" cy="169.2" r="2.15"/>
<circle cx="510.0" cy="170.3" r="2.15"/>
<circle cx="479.2" cy="196.9" r="2.15"/>
<circle cx="506.9" cy="183.2" r="2.15"/>
<circle cx="507.9" cy="179.7" r="2.15"/>
<circle cx="506.2" cy="174.7" r="2.15"/>
<circle cx="510.3" cy="179.1" r="2.15"/>
<circle cx="502.7" cy="170.5" r="2.15"/>
<circle cx="472.4" cy="193.3" r="2.15"/>
<circle cx="521.1" cy="170.8" r="2.15"/>
<circle cx="507.4" cy="176.4" r="2.15"/>
<circle cx="497.2" cy="181.0" r="2.15"/>
<circle cx="478.9" cy="186.0" r="2.15"/>
<circle cx="481.4" cy="191.4" r="2.15"/>
<circle cx="540.0" cy="170.5" r="2.15"/>
<circle cx="478.6" cy="188.6" r="2.15"/>
<circle cx="505.2" cy="192.3" r="2.15"/>
<circle cx="466.4" cy="201.9" r="2.15"/>
<circle cx="534.9" cy="163.8" r="2.15"/>
<circle cx="475.5" cy="180.2" r="2.15"/>
<circle cx="516.1" cy="174.8" r="2.15"/>
<circle cx="531.4" cy="167.6" r="2.15"/>
<circle cx="532.3" cy="174.9" r="2.15"/>
<circle cx="496.5" cy="190.6" r="2.15"/>
<circle cx="490.9" cy="178.0" r="2.15"/>
<circle cx="492.1" cy="186.4" r="2.15"/>
<circle cx="481.3" cy="201.5" r="2.15"/>
<circle cx="490.6" cy="187.4" r="2.15"/>
<circle cx="507.6" cy="174.1" r="2.15"/>
<circle cx="514.8" cy="191.4" r="2.15"/>
<circle cx="513.3" cy="192.4" r="2.15"/>
<circle cx="504.4" cy="185.1" r="2.15"/>
<circle cx="543.7" cy="175.6" r="2.15"/>
<circle cx="513.3" cy="172.9" r="2.15"/>
<circle cx="518.3" cy="182.6" r="2.15"/>
<circle cx="474.7" cy="192.1" r="2.15"/>
<circle cx="540.2" cy="176.1" r="2.15"/>
<circle cx="524.2" cy="178.0" r="2.15"/>
<circle cx="515.6" cy="177.4" r="2.15"/>
<circle cx="519.4" cy="177.4" r="2.15"/>
<circle cx="515.7" cy="172.6" r="2.15"/>
<circle cx="440.4" cy="203.4" r="2.15"/>
<circle cx="448.3" cy="203.7" r="2.15"/>
<circle cx="452.0" cy="206.2" r="2.15"/>
<circle cx="448.3" cy="209.9" r="2.15"/>
<circle cx="540.0" cy="105.5" r="2.15"/>
<circle cx="562.6" cy="104.1" r="2.15"/>
<circle cx="543.4" cy="195.8" r="2.15"/>
<circle cx="575.3" cy="183.1" r="2.15"/>
<circle cx="566.8" cy="183.9" r="2.15"/>
<circle cx="496.3" cy="154.3" r="2.15"/>
<circle cx="487.3" cy="158.5" r="2.15"/>
<circle cx="514.6" cy="132.9" r="2.15"/>
<circle cx="574.2" cy="109.7" r="2.15"/>
<circle cx="579.2" cy="110.1" r="2.15"/>
<circle cx="581.6" cy="108.7" r="2.15"/>
<circle cx="582.5" cy="112.9" r="2.15"/>
<circle cx="574.9" cy="115.8" r="2.15"/>
<circle cx="588.4" cy="115.8" r="2.15"/>
<circle cx="582.8" cy="119.3" r="2.15"/>
<circle cx="586.3" cy="120.0" r="2.15"/>
<circle cx="589.9" cy="120.8" r="2.15"/>
<circle cx="588.4" cy="123.6" r="2.15"/>
<circle cx="599.1" cy="120.0" r="2.15"/>
<circle cx="615.9" cy="113.6" r="2.15"/>
<circle cx="623.0" cy="124.6" r="2.15"/>
<circle cx="581.3" cy="127.2" r="2.15"/>
<circle cx="574.2" cy="130.0" r="2.15"/>
<circle cx="577.8" cy="131.4" r="2.15"/>
<circle cx="582.0" cy="131.4" r="2.15"/>
<circle cx="583.5" cy="130.0" r="2.15"/>
<circle cx="595.6" cy="134.7" r="2.15"/>
<circle cx="575.6" cy="135.3" r="2.15"/>
<circle cx="579.9" cy="135.7" r="2.15"/>
<circle cx="578.5" cy="140.0" r="2.15"/>
<circle cx="582.8" cy="141.4" r="2.15"/>
<circle cx="593.0" cy="142.5" r="2.15"/>
<circle cx="574.2" cy="143.5" r="2.15"/>
<circle cx="598.4" cy="147.8" r="2.15"/>
<circle cx="589.9" cy="148.5" r="2.15"/>
<circle cx="599.1" cy="152.8" r="2.15"/>
<circle cx="584.2" cy="152.8" r="2.15"/>
<circle cx="581.3" cy="154.2" r="2.15"/>
<circle cx="577.1" cy="154.9" r="2.15"/>
<circle cx="574.2" cy="152.8" r="2.15"/>
<circle cx="589.9" cy="159.9" r="2.15"/>
<circle cx="582.8" cy="160.6" r="2.15"/>
<circle cx="579.9" cy="163.4" r="2.15"/>
<circle cx="590.6" cy="164.9" r="2.15"/>
<circle cx="600.5" cy="164.6" r="2.15"/>
<circle cx="603.4" cy="162.0" r="2.15"/>
<circle cx="607.7" cy="164.6" r="2.15"/>
<circle cx="574.2" cy="155.6" r="2.15"/>
</g>
<path d="M398.90 27.40H699.80V238.90" fill="none" stroke="#1a1a1a" stroke-width="1.15"/>
<path d="M402.30 27.40V238.90" fill="none" stroke="#111" stroke-width="1.3"/>
<path d="M398.90 235.50H699.80" fill="none" stroke="#333" stroke-width="1.8"/>
<path d="M444.80 235.50v3.4" stroke="#111" stroke-width="1.1"/>
<path d="M487.30 235.50v3.4" stroke="#111" stroke-width="1.1"/>
<path d="M529.80 235.50v3.4" stroke="#111" stroke-width="1.1"/>
<path d="M572.30 235.50v3.4" stroke="#111" stroke-width="1.1"/>
<path d="M614.80 235.50v3.4" stroke="#111" stroke-width="1.1"/>
<path d="M657.30 235.50v3.4" stroke="#111" stroke-width="1.1"/>
<path d="M402.30 200.82h-3.4" stroke="#111" stroke-width="1.1"/>
<path d="M402.30 166.13h-3.4" stroke="#111" stroke-width="1.1"/>
<path d="M402.30 131.45h-3.4" stroke="#111" stroke-width="1.1"/>
<path d="M402.30 96.77h-3.4" stroke="#111" stroke-width="1.1"/>
<path d="M402.30 62.08h-3.4" stroke="#111" stroke-width="1.1"/>
<text class="tk" x="403.55" y="250.85" text-anchor="middle">0</text>
<text class="tk" x="445.85" y="250.85" text-anchor="middle">20</text>
<text class="tk" x="488.15" y="250.85" text-anchor="middle">40</text>
<text class="tk" x="530.45" y="250.85" text-anchor="middle">60</text>
<text class="tk" x="572.75" y="250.85" text-anchor="middle">80</text>
<text class="tk" x="615.05" y="250.85" text-anchor="middle">100</text>
<text class="tk" x="657.35" y="250.85" text-anchor="middle">120</text>
<text class="tk" x="696.85" y="250.85" text-anchor="middle">140</text>
<text class="tk" x="397.70" y="237.20" text-anchor="end">0</text>
<text class="tk" x="397.70" y="204.48" text-anchor="end">20</text>
<text class="tk" x="397.70" y="169.77" text-anchor="end">40</text>
<text class="tk" x="397.70" y="135.05" text-anchor="end">60</text>
<text class="tk" x="397.70" y="100.34" text-anchor="end">80</text>
<text class="tk" x="397.70" y="65.62" text-anchor="end">100</text>
<text class="tk" x="397.70" y="37.30" text-anchor="end">120</text>
<text class="an" x="406.70" y="44.90">R: 0.74</text>
<text class="an" x="406.70" y="61.40">p-value: &lt;0.0001</text>
<text class="ti" x="535.50" y="19.30" text-anchor="middle">AK</text>
<text class="ax" x="541.50" y="264.30" text-anchor="middle"><tspan font-size="14.9px">&#916;</tspan><tspan dx="0.8">Np63</tspan><tspan dx="0.3" font-size="17.6px">&#945;</tspan></text>
<text class="ax" transform="translate(371.60 136.60) rotate(-90)" text-anchor="middle">ERK3</text>
<text class="le" x="355.50" y="15.90">B.</text>
</g>
<g id="pC">
<line x1="48.33" y1="526.50" x2="338.90" y2="330.51" stroke="#0a0a0a" stroke-width="1.05"/>
<g class="d">
<circle cx="150.3" cy="491.3" r="2.15"/>
<circle cx="87.0" cy="497.2" r="2.15"/>
<circle cx="149.6" cy="425.6" r="2.15"/>
<circle cx="138.9" cy="484.5" r="2.15"/>
<circle cx="157.9" cy="448.2" r="2.15"/>
<circle cx="115.2" cy="473.9" r="2.15"/>
<circle cx="113.7" cy="468.1" r="2.15"/>
<circle cx="111.7" cy="477.3" r="2.15"/>
<circle cx="139.7" cy="445.4" r="2.15"/>
<circle cx="138.1" cy="455.4" r="2.15"/>
<circle cx="127.5" cy="457.1" r="2.15"/>
<circle cx="132.6" cy="501.6" r="2.15"/>
<circle cx="85.6" cy="502.3" r="2.15"/>
<circle cx="127.2" cy="464.2" r="2.15"/>
<circle cx="130.7" cy="443.1" r="2.15"/>
<circle cx="150.9" cy="465.4" r="2.15"/>
<circle cx="114.6" cy="496.0" r="2.15"/>
<circle cx="160.1" cy="483.0" r="2.15"/>
<circle cx="114.8" cy="487.3" r="2.15"/>
<circle cx="131.6" cy="494.3" r="2.15"/>
<circle cx="154.0" cy="474.1" r="2.15"/>
<circle cx="140.0" cy="438.8" r="2.15"/>
<circle cx="128.5" cy="499.3" r="2.15"/>
<circle cx="113.0" cy="502.1" r="2.15"/>
<circle cx="137.5" cy="429.8" r="2.15"/>
<circle cx="159.7" cy="488.9" r="2.15"/>
<circle cx="88.6" cy="495.4" r="2.15"/>
<circle cx="156.2" cy="457.0" r="2.15"/>
<circle cx="154.1" cy="435.5" r="2.15"/>
<circle cx="129.6" cy="436.2" r="2.15"/>
<circle cx="117.2" cy="477.4" r="2.15"/>
<circle cx="97.7" cy="508.5" r="2.15"/>
<circle cx="120.6" cy="441.8" r="2.15"/>
<circle cx="80.9" cy="500.9" r="2.15"/>
<circle cx="146.6" cy="472.3" r="2.15"/>
<circle cx="113.2" cy="507.5" r="2.15"/>
<circle cx="133.0" cy="456.4" r="2.15"/>
<circle cx="125.8" cy="443.4" r="2.15"/>
<circle cx="138.0" cy="441.3" r="2.15"/>
<circle cx="130.1" cy="480.9" r="2.15"/>
<circle cx="137.6" cy="461.7" r="2.15"/>
<circle cx="143.9" cy="487.7" r="2.15"/>
<circle cx="117.9" cy="453.9" r="2.15"/>
<circle cx="130.6" cy="470.7" r="2.15"/>
<circle cx="71.8" cy="502.0" r="2.15"/>
<circle cx="143.8" cy="491.4" r="2.15"/>
<circle cx="108.2" cy="476.2" r="2.15"/>
<circle cx="141.0" cy="478.4" r="2.15"/>
<circle cx="135.8" cy="426.3" r="2.15"/>
<circle cx="115.9" cy="490.8" r="2.15"/>
<circle cx="162.7" cy="482.0" r="2.15"/>
<circle cx="156.5" cy="421.8" r="2.15"/>
<circle cx="146.4" cy="437.5" r="2.15"/>
<circle cx="130.9" cy="446.6" r="2.15"/>
<circle cx="150.6" cy="449.9" r="2.15"/>
<circle cx="70.5" cy="507.1" r="2.15"/>
<circle cx="129.4" cy="507.1" r="2.15"/>
<circle cx="123.8" cy="461.8" r="2.15"/>
<circle cx="157.3" cy="462.4" r="2.15"/>
<circle cx="105.0" cy="484.1" r="2.15"/>
<circle cx="103.9" cy="490.3" r="2.15"/>
<circle cx="153.5" cy="458.1" r="2.15"/>
<circle cx="136.1" cy="449.4" r="2.15"/>
<circle cx="74.9" cy="508.1" r="2.15"/>
<circle cx="70.3" cy="515.9" r="2.15"/>
<circle cx="134.7" cy="455.0" r="2.15"/>
<circle cx="138.9" cy="464.0" r="2.15"/>
<circle cx="144.1" cy="438.3" r="2.15"/>
<circle cx="122.7" cy="445.6" r="2.15"/>
<circle cx="143.7" cy="459.3" r="2.15"/>
<circle cx="164.7" cy="487.0" r="2.15"/>
<circle cx="148.8" cy="436.7" r="2.15"/>
<circle cx="114.7" cy="447.3" r="2.15"/>
<circle cx="144.1" cy="463.5" r="2.15"/>
<circle cx="142.1" cy="450.2" r="2.15"/>
<circle cx="149.7" cy="454.9" r="2.15"/>
<circle cx="135.1" cy="474.7" r="2.15"/>
<circle cx="118.4" cy="445.9" r="2.15"/>
<circle cx="130.3" cy="487.2" r="2.15"/>
<circle cx="156.8" cy="469.4" r="2.15"/>
<circle cx="144.5" cy="493.2" r="2.15"/>
<circle cx="102.7" cy="488.6" r="2.15"/>
<circle cx="148.7" cy="434.4" r="2.15"/>
<circle cx="139.5" cy="454.1" r="2.15"/>
<circle cx="159.3" cy="471.2" r="2.15"/>
<circle cx="116.3" cy="506.8" r="2.15"/>
<circle cx="122.2" cy="457.5" r="2.15"/>
<circle cx="147.7" cy="431.7" r="2.15"/>
<circle cx="146.5" cy="481.1" r="2.15"/>
<circle cx="108.7" cy="502.9" r="2.15"/>
<circle cx="149.4" cy="423.3" r="2.15"/>
<circle cx="116.4" cy="461.1" r="2.15"/>
<circle cx="120.3" cy="470.1" r="2.15"/>
<circle cx="116.4" cy="485.1" r="2.15"/>
<circle cx="130.7" cy="449.9" r="2.15"/>
<circle cx="143.9" cy="443.7" r="2.15"/>
<circle cx="117.5" cy="467.3" r="2.15"/>
<circle cx="95.0" cy="516.1" r="2.15"/>
<circle cx="159.1" cy="466.3" r="2.15"/>
<circle cx="118.9" cy="495.2" r="2.15"/>
<circle cx="153.4" cy="480.0" r="2.15"/>
<circle cx="121.7" cy="505.4" r="2.15"/>
<circle cx="122.8" cy="441.0" r="2.15"/>
<circle cx="147.1" cy="426.6" r="2.15"/>
<circle cx="116.2" cy="494.9" r="2.15"/>
<circle cx="116.4" cy="451.4" r="2.15"/>
<circle cx="115.8" cy="468.7" r="2.15"/>
<circle cx="87.9" cy="511.6" r="2.15"/>
<circle cx="126.5" cy="490.7" r="2.15"/>
<circle cx="118.3" cy="510.8" r="2.15"/>
<circle cx="132.7" cy="472.5" r="2.15"/>
<circle cx="101.0" cy="500.6" r="2.15"/>
<circle cx="118.3" cy="479.2" r="2.15"/>
<circle cx="101.2" cy="505.7" r="2.15"/>
<circle cx="166.3" cy="472.0" r="2.15"/>
<circle cx="71.1" cy="500.1" r="2.15"/>
<circle cx="145.7" cy="424.6" r="2.15"/>
<circle cx="148.7" cy="477.4" r="2.15"/>
<circle cx="128.1" cy="481.4" r="2.15"/>
<circle cx="81.6" cy="492.7" r="2.15"/>
<circle cx="123.3" cy="478.5" r="2.15"/>
<circle cx="132.3" cy="485.5" r="2.15"/>
<circle cx="132.7" cy="469.3" r="2.15"/>
<circle cx="141.1" cy="482.8" r="2.15"/>
<circle cx="79.2" cy="494.2" r="2.15"/>
<circle cx="139.4" cy="458.8" r="2.15"/>
<circle cx="109.7" cy="498.7" r="2.15"/>
<circle cx="125.8" cy="510.1" r="2.15"/>
<circle cx="133.5" cy="442.4" r="2.15"/>
<circle cx="126.2" cy="478.3" r="2.15"/>
<circle cx="122.7" cy="501.5" r="2.15"/>
<circle cx="111.6" cy="490.2" r="2.15"/>
<circle cx="162.5" cy="477.7" r="2.15"/>
<circle cx="97.7" cy="500.6" r="2.15"/>
<circle cx="134.0" cy="458.5" r="2.15"/>
<circle cx="127.8" cy="458.9" r="2.15"/>
<circle cx="130.3" cy="467.8" r="2.15"/>
<circle cx="149.1" cy="488.5" r="2.15"/>
<circle cx="123.8" cy="444.1" r="2.15"/>
<circle cx="159.4" cy="435.2" r="2.15"/>
<circle cx="127.5" cy="494.1" r="2.15"/>
<circle cx="122.1" cy="482.5" r="2.15"/>
<circle cx="148.0" cy="450.8" r="2.15"/>
<circle cx="147.4" cy="492.9" r="2.15"/>
<circle cx="125.4" cy="500.0" r="2.15"/>
<circle cx="105.4" cy="499.3" r="2.15"/>
<circle cx="138.6" cy="435.5" r="2.15"/>
<circle cx="120.8" cy="446.3" r="2.15"/>
<circle cx="127.1" cy="505.2" r="2.15"/>
<circle cx="147.7" cy="475.1" r="2.15"/>
<circle cx="150.8" cy="442.4" r="2.15"/>
<circle cx="80.4" cy="506.6" r="2.15"/>
<circle cx="127.7" cy="441.7" r="2.15"/>
<circle cx="121.4" cy="511.6" r="2.15"/>
<circle cx="144.6" cy="465.9" r="2.15"/>
<circle cx="148.8" cy="429.4" r="2.15"/>
<circle cx="89.1" cy="489.0" r="2.15"/>
<circle cx="117.6" cy="473.3" r="2.15"/>
<circle cx="146.2" cy="446.5" r="2.15"/>
<circle cx="145.1" cy="442.1" r="2.15"/>
<circle cx="93.4" cy="510.5" r="2.15"/>
<circle cx="146.1" cy="487.4" r="2.15"/>
<circle cx="131.8" cy="505.2" r="2.15"/>
<circle cx="139.7" cy="422.2" r="2.15"/>
<circle cx="112.5" cy="462.8" r="2.15"/>
<circle cx="126.2" cy="471.9" r="2.15"/>
<circle cx="79.1" cy="511.3" r="2.15"/>
<circle cx="119.9" cy="509.3" r="2.15"/>
<circle cx="113.2" cy="486.3" r="2.15"/>
<circle cx="103.6" cy="507.7" r="2.15"/>
<circle cx="156.4" cy="489.1" r="2.15"/>
<circle cx="138.6" cy="494.4" r="2.15"/>
<circle cx="134.2" cy="482.8" r="2.15"/>
<circle cx="158.7" cy="451.3" r="2.15"/>
<circle cx="149.1" cy="483.6" r="2.15"/>
<circle cx="161.9" cy="487.8" r="2.15"/>
<circle cx="136.8" cy="489.2" r="2.15"/>
<circle cx="109.4" cy="488.3" r="2.15"/>
<circle cx="76.7" cy="495.1" r="2.15"/>
<circle cx="139.0" cy="496.4" r="2.15"/>
<circle cx="149.3" cy="486.7" r="2.15"/>
<circle cx="71.9" cy="514.5" r="2.15"/>
<circle cx="91.2" cy="511.3" r="2.15"/>
<circle cx="156.4" cy="472.8" r="2.15"/>
<circle cx="108.2" cy="494.1" r="2.15"/>
<circle cx="125.2" cy="493.9" r="2.15"/>
<circle cx="123.5" cy="467.7" r="2.15"/>
<circle cx="130.2" cy="444.9" r="2.15"/>
<circle cx="136.8" cy="484.0" r="2.15"/>
<circle cx="136.4" cy="451.2" r="2.15"/>
<circle cx="93.8" cy="503.1" r="2.15"/>
<circle cx="105.0" cy="488.2" r="2.15"/>
<circle cx="112.7" cy="448.9" r="2.15"/>
<circle cx="92.0" cy="491.0" r="2.15"/>
<circle cx="149.2" cy="462.9" r="2.15"/>
<circle cx="112.8" cy="456.1" r="2.15"/>
<circle cx="88.5" cy="506.5" r="2.15"/>
<circle cx="114.2" cy="443.9" r="2.15"/>
<circle cx="148.2" cy="465.8" r="2.15"/>
<circle cx="125.1" cy="496.6" r="2.15"/>
<circle cx="150.2" cy="475.0" r="2.15"/>
<circle cx="157.0" cy="450.3" r="2.15"/>
<circle cx="153.2" cy="442.8" r="2.15"/>
<circle cx="155.1" cy="462.4" r="2.15"/>
<circle cx="154.8" cy="440.1" r="2.15"/>
<circle cx="137.1" cy="492.0" r="2.15"/>
<circle cx="83.0" cy="490.1" r="2.15"/>
<circle cx="82.8" cy="499.2" r="2.15"/>
<circle cx="139.0" cy="446.9" r="2.15"/>
<circle cx="148.7" cy="462.0" r="2.15"/>
<circle cx="132.9" cy="483.6" r="2.15"/>
<circle cx="156.3" cy="480.7" r="2.15"/>
<circle cx="141.9" cy="477.3" r="2.15"/>
<circle cx="142.7" cy="486.1" r="2.15"/>
<circle cx="136.8" cy="434.8" r="2.15"/>
<circle cx="147.2" cy="449.1" r="2.15"/>
<circle cx="144.7" cy="442.6" r="2.15"/>
<circle cx="140.6" cy="474.6" r="2.15"/>
<circle cx="145.4" cy="450.0" r="2.15"/>
<circle cx="141.2" cy="436.5" r="2.15"/>
<circle cx="129.5" cy="442.2" r="2.15"/>
<circle cx="129.2" cy="455.3" r="2.15"/>
<circle cx="156.0" cy="465.3" r="2.15"/>
<circle cx="151.1" cy="457.6" r="2.15"/>
<circle cx="153.3" cy="447.2" r="2.15"/>
<circle cx="155.4" cy="440.5" r="2.15"/>
<circle cx="119.2" cy="470.6" r="2.15"/>
<circle cx="126.5" cy="460.6" r="2.15"/>
<circle cx="126.4" cy="457.7" r="2.15"/>
<circle cx="145.9" cy="447.4" r="2.15"/>
<circle cx="138.6" cy="438.3" r="2.15"/>
<circle cx="129.2" cy="486.1" r="2.15"/>
<circle cx="118.6" cy="479.9" r="2.15"/>
<circle cx="135.5" cy="484.5" r="2.15"/>
<circle cx="139.3" cy="461.9" r="2.15"/>
<circle cx="132.2" cy="438.5" r="2.15"/>
<circle cx="145.6" cy="438.5" r="2.15"/>
<circle cx="146.9" cy="478.7" r="2.15"/>
<circle cx="137.2" cy="478.1" r="2.15"/>
<circle cx="136.9" cy="448.0" r="2.15"/>
<circle cx="136.0" cy="494.6" r="2.15"/>
<circle cx="147.4" cy="466.7" r="2.15"/>
<circle cx="121.9" cy="454.8" r="2.15"/>
<circle cx="152.5" cy="436.3" r="2.15"/>
<circle cx="137.8" cy="463.7" r="2.15"/>
<circle cx="116.5" cy="465.6" r="2.15"/>
<circle cx="141.2" cy="438.9" r="2.15"/>
<circle cx="120.7" cy="469.1" r="2.15"/>
<circle cx="124.6" cy="444.1" r="2.15"/>
<circle cx="129.8" cy="445.4" r="2.15"/>
<circle cx="155.5" cy="469.1" r="2.15"/>
<circle cx="147.7" cy="486.1" r="2.15"/>
<circle cx="121.4" cy="473.2" r="2.15"/>
<circle cx="117.9" cy="454.6" r="2.15"/>
<circle cx="128.5" cy="462.0" r="2.15"/>
<circle cx="159.7" cy="440.2" r="2.15"/>
<circle cx="149.4" cy="480.7" r="2.15"/>
<circle cx="155.5" cy="443.5" r="2.15"/>
<circle cx="126.4" cy="485.1" r="2.15"/>
<circle cx="149.9" cy="484.1" r="2.15"/>
<circle cx="145.0" cy="430.4" r="2.15"/>
<circle cx="135.4" cy="441.2" r="2.15"/>
<circle cx="133.4" cy="470.9" r="2.15"/>
<circle cx="146.7" cy="462.7" r="2.15"/>
<circle cx="123.0" cy="460.4" r="2.15"/>
<circle cx="144.9" cy="462.2" r="2.15"/>
<circle cx="138.2" cy="488.8" r="2.15"/>
<circle cx="132.7" cy="489.7" r="2.15"/>
<circle cx="140.9" cy="484.1" r="2.15"/>
<circle cx="145.4" cy="480.0" r="2.15"/>
<circle cx="148.8" cy="437.1" r="2.15"/>
<circle cx="121.1" cy="480.6" r="2.15"/>
<circle cx="137.4" cy="486.0" r="2.15"/>
<circle cx="151.9" cy="455.8" r="2.15"/>
<circle cx="158.3" cy="435.6" r="2.15"/>
<circle cx="138.7" cy="433.2" r="2.15"/>
<circle cx="95.7" cy="492.9" r="2.15"/>
<circle cx="98.3" cy="514.7" r="2.15"/>
<circle cx="101.7" cy="503.0" r="2.15"/>
<circle cx="90.2" cy="506.6" r="2.15"/>
<circle cx="113.0" cy="484.0" r="2.15"/>
<circle cx="104.1" cy="509.5" r="2.15"/>
<circle cx="114.4" cy="481.7" r="2.15"/>
<circle cx="109.6" cy="507.5" r="2.15"/>
<circle cx="118.6" cy="485.7" r="2.15"/>
<circle cx="123.2" cy="479.8" r="2.15"/>
<circle cx="93.2" cy="515.0" r="2.15"/>
<circle cx="70.7" cy="499.8" r="2.15"/>
<circle cx="125.9" cy="494.9" r="2.15"/>
<circle cx="80.8" cy="502.8" r="2.15"/>
<circle cx="116.3" cy="481.1" r="2.15"/>
<circle cx="122.2" cy="501.7" r="2.15"/>
<circle cx="117.9" cy="491.1" r="2.15"/>
<circle cx="79.2" cy="495.9" r="2.15"/>
<circle cx="71.0" cy="503.6" r="2.15"/>
<circle cx="98.0" cy="506.9" r="2.15"/>
<circle cx="113.8" cy="495.1" r="2.15"/>
<circle cx="128.8" cy="494.1" r="2.15"/>
<circle cx="121.9" cy="492.8" r="2.15"/>
<circle cx="76.4" cy="512.4" r="2.15"/>
<circle cx="78.9" cy="493.6" r="2.15"/>
<circle cx="128.9" cy="492.2" r="2.15"/>
<circle cx="90.4" cy="514.2" r="2.15"/>
<circle cx="123.2" cy="498.0" r="2.15"/>
<circle cx="76.6" cy="503.6" r="2.15"/>
<circle cx="116.6" cy="486.7" r="2.15"/>
<circle cx="76.8" cy="496.4" r="2.15"/>
<circle cx="123.8" cy="500.0" r="2.15"/>
<circle cx="69.5" cy="504.1" r="2.15"/>
<circle cx="85.0" cy="507.5" r="2.15"/>
<circle cx="72.0" cy="506.4" r="2.15"/>
<circle cx="97.5" cy="503.9" r="2.15"/>
<circle cx="104.9" cy="492.9" r="2.15"/>
<circle cx="80.4" cy="511.6" r="2.15"/>
<circle cx="109.9" cy="494.3" r="2.15"/>
<circle cx="96.2" cy="499.7" r="2.15"/>
<circle cx="116.3" cy="491.3" r="2.15"/>
<circle cx="80.4" cy="509.8" r="2.15"/>
<circle cx="107.0" cy="487.3" r="2.15"/>
<circle cx="94.1" cy="516.6" r="2.15"/>
<circle cx="72.0" cy="510.6" r="2.15"/>
<circle cx="83.3" cy="489.9" r="2.15"/>
<circle cx="97.6" cy="491.9" r="2.15"/>
<circle cx="83.4" cy="496.6" r="2.15"/>
<circle cx="102.7" cy="495.7" r="2.15"/>
<circle cx="91.7" cy="490.9" r="2.15"/>
<circle cx="112.1" cy="504.8" r="2.15"/>
<circle cx="106.4" cy="491.5" r="2.15"/>
<circle cx="113.5" cy="486.2" r="2.15"/>
<circle cx="101.6" cy="497.0" r="2.15"/>
<circle cx="86.5" cy="512.0" r="2.15"/>
<circle cx="108.0" cy="493.9" r="2.15"/>
<circle cx="110.7" cy="492.4" r="2.15"/>
<circle cx="86.3" cy="493.4" r="2.15"/>
<circle cx="96.7" cy="513.3" r="2.15"/>
<circle cx="94.9" cy="505.6" r="2.15"/>
<circle cx="87.0" cy="508.5" r="2.15"/>
<circle cx="104.8" cy="500.1" r="2.15"/>
<circle cx="116.5" cy="505.2" r="2.15"/>
<circle cx="112.4" cy="498.0" r="2.15"/>
<circle cx="118.5" cy="494.0" r="2.15"/>
<circle cx="100.8" cy="505.2" r="2.15"/>
<circle cx="120.1" cy="489.2" r="2.15"/>
<circle cx="91.9" cy="509.8" r="2.15"/>
<circle cx="99.7" cy="501.5" r="2.15"/>
<circle cx="121.1" cy="503.8" r="2.15"/>
<circle cx="128.8" cy="499.0" r="2.15"/>
<circle cx="100.0" cy="490.4" r="2.15"/>
<circle cx="89.6" cy="503.9" r="2.15"/>
<circle cx="125.5" cy="500.4" r="2.15"/>
<circle cx="111.7" cy="480.6" r="2.15"/>
<circle cx="69.1" cy="501.2" r="2.15"/>
<circle cx="124.3" cy="491.9" r="2.15"/>
<circle cx="95.3" cy="489.4" r="2.15"/>
<circle cx="100.3" cy="508.4" r="2.15"/>
<circle cx="110.0" cy="486.7" r="2.15"/>
<circle cx="93.9" cy="493.6" r="2.15"/>
<circle cx="103.2" cy="485.8" r="2.15"/>
<circle cx="108.9" cy="483.5" r="2.15"/>
<circle cx="123.8" cy="485.7" r="2.15"/>
<circle cx="108.2" cy="497.1" r="2.15"/>
<circle cx="107.7" cy="490.5" r="2.15"/>
<circle cx="116.2" cy="496.7" r="2.15"/>
<circle cx="107.8" cy="506.4" r="2.15"/>
<circle cx="127.1" cy="501.4" r="2.15"/>
<circle cx="115.6" cy="484.5" r="2.15"/>
<circle cx="111.1" cy="490.7" r="2.15"/>
<circle cx="82.0" cy="510.4" r="2.15"/>
<circle cx="118.5" cy="480.4" r="2.15"/>
<circle cx="94.9" cy="511.2" r="2.15"/>
<circle cx="68.7" cy="507.9" r="2.15"/>
<circle cx="70.9" cy="515.1" r="2.15"/>
<circle cx="81.7" cy="492.9" r="2.15"/>
<circle cx="114.2" cy="497.9" r="2.15"/>
<circle cx="92.1" cy="507.1" r="2.15"/>
<circle cx="81.3" cy="506.3" r="2.15"/>
<circle cx="98.1" cy="502.3" r="2.15"/>
<circle cx="90.8" cy="500.1" r="2.15"/>
<circle cx="89.1" cy="496.7" r="2.15"/>
<circle cx="127.0" cy="503.4" r="2.15"/>
<circle cx="69.3" cy="510.4" r="2.15"/>
<circle cx="124.0" cy="505.7" r="2.15"/>
<circle cx="96.7" cy="494.7" r="2.15"/>
<circle cx="122.9" cy="508.4" r="2.15"/>
<circle cx="121.3" cy="507.0" r="2.15"/>
<circle cx="107.6" cy="500.0" r="2.15"/>
<circle cx="120.0" cy="485.1" r="2.15"/>
<circle cx="83.2" cy="492.3" r="2.15"/>
<circle cx="101.4" cy="488.5" r="2.15"/>
<circle cx="113.5" cy="506.0" r="2.15"/>
<circle cx="94.7" cy="497.0" r="2.15"/>
<circle cx="114.2" cy="491.4" r="2.15"/>
<circle cx="120.0" cy="482.4" r="2.15"/>
<circle cx="79.5" cy="504.0" r="2.15"/>
<circle cx="91.9" cy="494.9" r="2.15"/>
<circle cx="99.2" cy="491.8" r="2.15"/>
<circle cx="77.0" cy="508.6" r="2.15"/>
<circle cx="88.7" cy="500.4" r="2.15"/>
<circle cx="112.4" cy="491.6" r="2.15"/>
<circle cx="88.5" cy="493.6" r="2.15"/>
<circle cx="93.2" cy="490.3" r="2.15"/>
<circle cx="86.5" cy="501.9" r="2.15"/>
<circle cx="125.9" cy="484.4" r="2.15"/>
<circle cx="98.2" cy="509.0" r="2.15"/>
<circle cx="121.4" cy="510.6" r="2.15"/>
<circle cx="108.2" cy="503.9" r="2.15"/>
<circle cx="79.6" cy="498.7" r="2.15"/>
<circle cx="119.7" cy="496.8" r="2.15"/>
<circle cx="89.0" cy="512.6" r="2.15"/>
<circle cx="122.3" cy="487.7" r="2.15"/>
<circle cx="102.3" cy="505.3" r="2.15"/>
<circle cx="201.9" cy="387.5" r="2.15"/>
<circle cx="157.8" cy="399.5" r="2.15"/>
<circle cx="139.9" cy="411.5" r="2.15"/>
<circle cx="135.9" cy="415.5" r="2.15"/>
<circle cx="152.0" cy="416.1" r="2.15"/>
<circle cx="156.5" cy="419.5" r="2.15"/>
<circle cx="145.8" cy="420.9" r="2.15"/>
<circle cx="85.2" cy="466.0" r="2.15"/>
<circle cx="187.7" cy="470.3" r="2.15"/>
<circle cx="184.0" cy="484.7" r="2.15"/>
<circle cx="194.7" cy="489.0" r="2.15"/>
<circle cx="163.2" cy="502.1" r="2.15"/>
<circle cx="170.7" cy="489.5" r="2.15"/>
<circle cx="164.5" cy="473.5" r="2.15"/>
<circle cx="171.2" cy="474.8" r="2.15"/>
<circle cx="89.7" cy="478.8" r="2.15"/>
<circle cx="97.7" cy="474.8" r="2.15"/>
<circle cx="101.7" cy="476.2" r="2.15"/>
<circle cx="109.8" cy="472.1" r="2.15"/>
<circle cx="135.1" cy="507.7" r="2.15"/>
<circle cx="121.8" cy="513.5" r="2.15"/>
<circle cx="93.7" cy="518.9" r="2.15"/>
<circle cx="71.0" cy="518.1" r="2.15"/>
<circle cx="229.8" cy="331.5" r="2.15"/>
<circle cx="196.2" cy="363.6" r="2.15"/>
<circle cx="187.6" cy="377.1" r="2.15"/>
<circle cx="165.7" cy="394.0" r="2.15"/>
<circle cx="175.6" cy="392.8" r="2.15"/>
<circle cx="161.4" cy="399.3" r="2.15"/>
<circle cx="174.2" cy="403.1" r="2.15"/>
<circle cx="194.2" cy="404.2" r="2.15"/>
<circle cx="188.9" cy="408.2" r="2.15"/>
<circle cx="209.1" cy="408.2" r="2.15"/>
<circle cx="242.3" cy="396.4" r="2.15"/>
<circle cx="240.0" cy="414.9" r="2.15"/>
<circle cx="216.0" cy="413.5" r="2.15"/>
<circle cx="168.9" cy="413.9" r="2.15"/>
<circle cx="182.3" cy="415.9" r="2.15"/>
<circle cx="195.6" cy="415.9" r="2.15"/>
<circle cx="204.6" cy="415.9" r="2.15"/>
<circle cx="174.9" cy="419.2" r="2.15"/>
<circle cx="193.7" cy="419.6" r="2.15"/>
<circle cx="199.9" cy="419.9" r="2.15"/>
<circle cx="204.1" cy="419.2" r="2.15"/>
<circle cx="166.4" cy="424.9" r="2.15"/>
<circle cx="173.5" cy="426.3" r="2.15"/>
<circle cx="178.5" cy="428.5" r="2.15"/>
<circle cx="187.7" cy="429.9" r="2.15"/>
<circle cx="169.9" cy="430.6" r="2.15"/>
<circle cx="179.2" cy="431.3" r="2.15"/>
<circle cx="218.1" cy="430.3" r="2.15"/>
<circle cx="171.4" cy="434.9" r="2.15"/>
<circle cx="178.5" cy="435.6" r="2.15"/>
<circle cx="195.6" cy="435.3" r="2.15"/>
<circle cx="168.5" cy="437.7" r="2.15"/>
<circle cx="184.2" cy="439.9" r="2.15"/>
<circle cx="187.7" cy="440.6" r="2.15"/>
<circle cx="192.0" cy="439.9" r="2.15"/>
<circle cx="196.3" cy="438.4" r="2.15"/>
<circle cx="200.6" cy="438.4" r="2.15"/>
<circle cx="208.4" cy="438.1" r="2.15"/>
<circle cx="172.1" cy="439.9" r="2.15"/>
<circle cx="176.4" cy="439.1" r="2.15"/>
<circle cx="180.6" cy="441.3" r="2.15"/>
<circle cx="162.1" cy="441.3" r="2.15"/>
<circle cx="225.5" cy="440.9" r="2.15"/>
<circle cx="228.3" cy="441.3" r="2.15"/>
<circle cx="213.4" cy="444.4" r="2.15"/>
<circle cx="195.6" cy="444.1" r="2.15"/>
<circle cx="199.9" cy="444.1" r="2.15"/>
<circle cx="197.0" cy="447.0" r="2.15"/>
<circle cx="186.3" cy="447.0" r="2.15"/>
<circle cx="189.9" cy="449.8" r="2.15"/>
<circle cx="192.7" cy="451.5" r="2.15"/>
<circle cx="175.6" cy="448.1" r="2.15"/>
<circle cx="177.8" cy="450.5" r="2.15"/>
<circle cx="181.3" cy="452.4" r="2.15"/>
<circle cx="167.8" cy="447.0" r="2.15"/>
<circle cx="162.8" cy="446.3" r="2.15"/>
<circle cx="164.2" cy="449.8" r="2.15"/>
<circle cx="167.1" cy="456.2" r="2.15"/>
<circle cx="160.7" cy="457.0" r="2.15"/>
<circle cx="193.4" cy="460.5" r="2.15"/>
<circle cx="165.0" cy="463.4" r="2.15"/>
<circle cx="174.2" cy="465.8" r="2.15"/>
<circle cx="183.5" cy="468.3" r="2.15"/>
<circle cx="187.7" cy="469.1" r="2.15"/>
</g>
<path d="M37.70 318.00H338.90V529.90" fill="none" stroke="#151515" stroke-width="1.25"/>
<path d="M41.10 318.00V529.90" fill="none" stroke="#111" stroke-width="1.3"/>
<path d="M37.70 526.50H338.90" fill="none" stroke="#333" stroke-width="1.8"/>
<path d="M83.64 526.50v3.4" stroke="#111" stroke-width="1.1"/>
<path d="M126.19 526.50v3.4" stroke="#111" stroke-width="1.1"/>
<path d="M168.73 526.50v3.4" stroke="#111" stroke-width="1.1"/>
<path d="M211.27 526.50v3.4" stroke="#111" stroke-width="1.1"/>
<path d="M253.81 526.50v3.4" stroke="#111" stroke-width="1.1"/>
<path d="M296.36 526.50v3.4" stroke="#111" stroke-width="1.1"/>
<path d="M41.10 491.75h-3.4" stroke="#111" stroke-width="1.1"/>
<path d="M41.10 457.00h-3.4" stroke="#111" stroke-width="1.1"/>
<path d="M41.10 422.25h-3.4" stroke="#111" stroke-width="1.1"/>
<path d="M41.10 387.50h-3.4" stroke="#111" stroke-width="1.1"/>
<path d="M41.10 352.75h-3.4" stroke="#111" stroke-width="1.1"/>
<text class="tk" x="42.10" y="542.60" text-anchor="middle">0</text>
<text class="tk" x="84.40" y="542.60" text-anchor="middle">20</text>
<text class="tk" x="126.70" y="542.60" text-anchor="middle">40</text>
<text class="tk" x="169.00" y="542.60" text-anchor="middle">60</text>
<text class="tk" x="211.30" y="542.60" text-anchor="middle">80</text>
<text class="tk" x="253.60" y="542.60" text-anchor="middle">100</text>
<text class="tk" x="295.90" y="542.60" text-anchor="middle">120</text>
<text class="tk" x="335.40" y="542.60" text-anchor="middle">140</text>
<text class="tk" x="36.00" y="529.20" text-anchor="end">0</text>
<text class="tk" x="36.00" y="496.48" text-anchor="end">20</text>
<text class="tk" x="36.00" y="461.77" text-anchor="end">40</text>
<text class="tk" x="36.00" y="427.05" text-anchor="end">60</text>
<text class="tk" x="36.00" y="392.34" text-anchor="end">80</text>
<text class="tk" x="36.00" y="357.62" text-anchor="end">100</text>
<text class="tk" x="36.00" y="328.90" text-anchor="end">120</text>
<text class="an" x="46.00" y="335.90">R: 0.78</text>
<text class="an" x="46.00" y="352.40">p-value: &lt;0.0001</text>
<text class="ti" x="169.80" y="313.40" text-anchor="middle">SCC</text>
<text class="ax" x="181.50" y="556.50" text-anchor="middle"><tspan font-size="14.9px">&#916;</tspan><tspan dx="0.8">Np63</tspan><tspan dx="0.3" font-size="17.6px">&#945;</tspan></text>
<text class="ax" transform="translate(14.80 429.40) rotate(-90)" text-anchor="middle">ERK3</text>
<text class="le" x="0.60" y="294.90">C.</text>
</g>
<g id="pD">
<line x1="403.40" y1="509.07" x2="700.80" y2="435.09" stroke="#0a0a0a" stroke-width="1.05"/>
<g class="d">
<circle cx="537.0" cy="495.8" r="2.15"/>
<circle cx="470.7" cy="480.5" r="2.15"/>
<circle cx="526.4" cy="495.8" r="2.15"/>
<circle cx="479.1" cy="485.8" r="2.15"/>
<circle cx="531.0" cy="500.5" r="2.15"/>
<circle cx="507.3" cy="488.4" r="2.15"/>
<circle cx="466.5" cy="476.9" r="2.15"/>
<circle cx="501.7" cy="466.8" r="2.15"/>
<circle cx="504.1" cy="500.6" r="2.15"/>
<circle cx="498.0" cy="473.4" r="2.15"/>
<circle cx="490.6" cy="458.7" r="2.15"/>
<circle cx="454.0" cy="485.7" r="2.15"/>
<circle cx="500.5" cy="476.7" r="2.15"/>
<circle cx="488.9" cy="461.1" r="2.15"/>
<circle cx="475.9" cy="470.0" r="2.15"/>
<circle cx="480.1" cy="481.8" r="2.15"/>
<circle cx="471.4" cy="493.8" r="2.15"/>
<circle cx="472.2" cy="468.6" r="2.15"/>
<circle cx="516.0" cy="501.4" r="2.15"/>
<circle cx="519.6" cy="505.1" r="2.15"/>
<circle cx="488.7" cy="504.1" r="2.15"/>
<circle cx="527.5" cy="466.4" r="2.15"/>
<circle cx="485.9" cy="505.2" r="2.15"/>
<circle cx="465.8" cy="494.9" r="2.15"/>
<circle cx="543.1" cy="474.0" r="2.15"/>
<circle cx="465.7" cy="488.7" r="2.15"/>
<circle cx="461.3" cy="480.1" r="2.15"/>
<circle cx="495.1" cy="463.4" r="2.15"/>
<circle cx="473.3" cy="501.0" r="2.15"/>
<circle cx="532.4" cy="457.6" r="2.15"/>
<circle cx="538.0" cy="482.2" r="2.15"/>
<circle cx="488.0" cy="501.7" r="2.15"/>
<circle cx="524.9" cy="492.6" r="2.15"/>
<circle cx="481.7" cy="487.5" r="2.15"/>
<circle cx="510.8" cy="496.7" r="2.15"/>
<circle cx="511.9" cy="489.2" r="2.15"/>
<circle cx="541.2" cy="488.2" r="2.15"/>
<circle cx="513.1" cy="452.9" r="2.15"/>
<circle cx="510.1" cy="482.4" r="2.15"/>
<circle cx="537.9" cy="462.1" r="2.15"/>
<circle cx="524.1" cy="500.3" r="2.15"/>
<circle cx="533.3" cy="461.1" r="2.15"/>
<circle cx="481.1" cy="501.1" r="2.15"/>
<circle cx="494.5" cy="479.9" r="2.15"/>
<circle cx="452.9" cy="483.9" r="2.15"/>
<circle cx="531.9" cy="484.7" r="2.15"/>
<circle cx="484.1" cy="493.9" r="2.15"/>
<circle cx="528.4" cy="454.3" r="2.15"/>
<circle cx="485.9" cy="495.1" r="2.15"/>
<circle cx="471.9" cy="477.6" r="2.15"/>
<circle cx="508.7" cy="500.8" r="2.15"/>
<circle cx="490.9" cy="499.2" r="2.15"/>
<circle cx="529.2" cy="473.9" r="2.15"/>
<circle cx="465.6" cy="500.1" r="2.15"/>
<circle cx="463.8" cy="478.1" r="2.15"/>
<circle cx="501.2" cy="501.9" r="2.15"/>
<circle cx="473.0" cy="498.6" r="2.15"/>
<circle cx="509.3" cy="488.7" r="2.15"/>
<circle cx="479.4" cy="502.4" r="2.15"/>
<circle cx="536.4" cy="467.1" r="2.15"/>
<circle cx="524.5" cy="485.0" r="2.15"/>
<circle cx="463.0" cy="494.1" r="2.15"/>
<circle cx="512.6" cy="457.1" r="2.15"/>
<circle cx="463.3" cy="496.3" r="2.15"/>
<circle cx="535.5" cy="471.0" r="2.15"/>
<circle cx="483.0" cy="485.4" r="2.15"/>
<circle cx="511.9" cy="468.3" r="2.15"/>
<circle cx="464.7" cy="483.3" r="2.15"/>
<circle cx="504.2" cy="503.8" r="2.15"/>
<circle cx="508.4" cy="497.6" r="2.15"/>
<circle cx="537.9" cy="472.9" r="2.15"/>
<circle cx="535.0" cy="490.2" r="2.15"/>
<circle cx="487.7" cy="472.6" r="2.15"/>
<circle cx="476.6" cy="473.3" r="2.15"/>
<circle cx="467.1" cy="480.7" r="2.15"/>
<circle cx="508.1" cy="470.5" r="2.15"/>
<circle cx="508.9" cy="458.4" r="2.15"/>
<circle cx="537.2" cy="484.4" r="2.15"/>
<circle cx="523.7" cy="458.0" r="2.15"/>
<circle cx="478.1" cy="504.4" r="2.15"/>
<circle cx="524.9" cy="488.9" r="2.15"/>
<circle cx="540.9" cy="464.6" r="2.15"/>
<circle cx="518.1" cy="481.9" r="2.15"/>
<circle cx="464.3" cy="498.4" r="2.15"/>
<circle cx="532.9" cy="464.2" r="2.15"/>
<circle cx="514.5" cy="499.4" r="2.15"/>
<circle cx="486.4" cy="473.9" r="2.15"/>
<circle cx="518.0" cy="460.1" r="2.15"/>
<circle cx="485.7" cy="498.6" r="2.15"/>
<circle cx="505.5" cy="455.6" r="2.15"/>
<circle cx="535.0" cy="484.2" r="2.15"/>
<circle cx="509.8" cy="464.2" r="2.15"/>
<circle cx="517.5" cy="478.3" r="2.15"/>
<circle cx="506.5" cy="463.9" r="2.15"/>
<circle cx="456.4" cy="494.7" r="2.15"/>
<circle cx="515.9" cy="456.1" r="2.15"/>
<circle cx="528.3" cy="478.9" r="2.15"/>
<circle cx="529.9" cy="485.6" r="2.15"/>
<circle cx="534.3" cy="492.8" r="2.15"/>
<circle cx="478.0" cy="471.9" r="2.15"/>
<circle cx="478.1" cy="489.5" r="2.15"/>
<circle cx="516.7" cy="474.8" r="2.15"/>
<circle cx="538.3" cy="465.4" r="2.15"/>
<circle cx="488.4" cy="485.8" r="2.15"/>
<circle cx="538.4" cy="488.2" r="2.15"/>
<circle cx="497.1" cy="456.0" r="2.15"/>
<circle cx="477.9" cy="482.3" r="2.15"/>
<circle cx="530.2" cy="459.8" r="2.15"/>
<circle cx="452.2" cy="493.9" r="2.15"/>
<circle cx="480.5" cy="468.4" r="2.15"/>
<circle cx="516.7" cy="488.2" r="2.15"/>
<circle cx="501.1" cy="470.4" r="2.15"/>
<circle cx="529.4" cy="493.4" r="2.15"/>
<circle cx="472.3" cy="482.7" r="2.15"/>
<circle cx="517.0" cy="504.2" r="2.15"/>
<circle cx="482.8" cy="506.4" r="2.15"/>
<circle cx="528.2" cy="491.8" r="2.15"/>
<circle cx="493.8" cy="470.0" r="2.15"/>
<circle cx="542.3" cy="480.0" r="2.15"/>
<circle cx="508.2" cy="484.2" r="2.15"/>
<circle cx="491.2" cy="495.8" r="2.15"/>
<circle cx="513.9" cy="481.0" r="2.15"/>
<circle cx="500.8" cy="481.0" r="2.15"/>
<circle cx="461.0" cy="500.6" r="2.15"/>
<circle cx="517.3" cy="484.0" r="2.15"/>
<circle cx="527.7" cy="500.1" r="2.15"/>
<circle cx="539.3" cy="494.9" r="2.15"/>
<circle cx="501.4" cy="464.6" r="2.15"/>
<circle cx="494.9" cy="499.6" r="2.15"/>
<circle cx="494.6" cy="465.8" r="2.15"/>
<circle cx="500.0" cy="498.9" r="2.15"/>
<circle cx="540.5" cy="496.9" r="2.15"/>
<circle cx="498.2" cy="481.3" r="2.15"/>
<circle cx="522.1" cy="468.2" r="2.15"/>
<circle cx="476.0" cy="483.5" r="2.15"/>
<circle cx="490.1" cy="467.0" r="2.15"/>
<circle cx="521.9" cy="479.8" r="2.15"/>
<circle cx="473.2" cy="485.6" r="2.15"/>
<circle cx="495.5" cy="487.2" r="2.15"/>
<circle cx="504.9" cy="482.5" r="2.15"/>
<circle cx="540.5" cy="475.6" r="2.15"/>
<circle cx="478.6" cy="467.7" r="2.15"/>
<circle cx="525.5" cy="468.4" r="2.15"/>
<circle cx="502.5" cy="462.3" r="2.15"/>
<circle cx="541.7" cy="472.2" r="2.15"/>
<circle cx="491.6" cy="491.9" r="2.15"/>
<circle cx="482.3" cy="469.7" r="2.15"/>
<circle cx="521.9" cy="482.6" r="2.15"/>
<circle cx="486.5" cy="461.6" r="2.15"/>
<circle cx="533.7" cy="467.8" r="2.15"/>
<circle cx="534.3" cy="472.4" r="2.15"/>
<circle cx="533.2" cy="482.8" r="2.15"/>
<circle cx="483.4" cy="473.9" r="2.15"/>
<circle cx="522.3" cy="476.6" r="2.15"/>
<circle cx="483.9" cy="464.8" r="2.15"/>
<circle cx="503.3" cy="487.7" r="2.15"/>
<circle cx="523.2" cy="495.3" r="2.15"/>
<circle cx="538.0" cy="492.4" r="2.15"/>
<circle cx="498.0" cy="493.2" r="2.15"/>
<circle cx="511.2" cy="459.6" r="2.15"/>
<circle cx="527.5" cy="494.1" r="2.15"/>
<circle cx="527.4" cy="498.0" r="2.15"/>
<circle cx="518.3" cy="486.4" r="2.15"/>
<circle cx="468.0" cy="495.6" r="2.15"/>
<circle cx="482.8" cy="482.7" r="2.15"/>
<circle cx="510.1" cy="456.3" r="2.15"/>
<circle cx="458.8" cy="499.4" r="2.15"/>
<circle cx="496.2" cy="471.9" r="2.15"/>
<circle cx="530.1" cy="491.5" r="2.15"/>
<circle cx="493.0" cy="499.5" r="2.15"/>
<circle cx="531.0" cy="470.6" r="2.15"/>
<circle cx="515.5" cy="472.0" r="2.15"/>
<circle cx="511.6" cy="485.0" r="2.15"/>
<circle cx="533.8" cy="480.8" r="2.15"/>
<circle cx="522.8" cy="460.3" r="2.15"/>
<circle cx="505.0" cy="465.0" r="2.15"/>
<circle cx="506.6" cy="458.8" r="2.15"/>
<circle cx="469.7" cy="491.7" r="2.15"/>
<circle cx="500.0" cy="456.8" r="2.15"/>
<circle cx="484.4" cy="479.2" r="2.15"/>
<circle cx="492.4" cy="468.4" r="2.15"/>
<circle cx="515.3" cy="493.3" r="2.15"/>
<circle cx="512.2" cy="492.8" r="2.15"/>
<circle cx="537.1" cy="478.6" r="2.15"/>
<circle cx="485.3" cy="481.0" r="2.15"/>
<circle cx="466.4" cy="471.7" r="2.15"/>
<circle cx="478.3" cy="465.2" r="2.15"/>
<circle cx="519.1" cy="473.7" r="2.15"/>
<circle cx="522.6" cy="491.1" r="2.15"/>
<circle cx="491.9" cy="470.4" r="2.15"/>
<circle cx="466.3" cy="495.1" r="2.15"/>
<circle cx="473.3" cy="493.3" r="2.15"/>
<circle cx="494.0" cy="489.1" r="2.15"/>
<circle cx="526.1" cy="477.6" r="2.15"/>
<circle cx="490.2" cy="500.7" r="2.15"/>
<circle cx="460.9" cy="492.7" r="2.15"/>
<circle cx="511.7" cy="484.7" r="2.15"/>
<circle cx="497.8" cy="493.5" r="2.15"/>
<circle cx="504.9" cy="479.1" r="2.15"/>
<circle cx="535.9" cy="488.9" r="2.15"/>
<circle cx="530.4" cy="483.2" r="2.15"/>
<circle cx="530.1" cy="478.9" r="2.15"/>
<circle cx="463.8" cy="494.7" r="2.15"/>
<circle cx="498.3" cy="480.7" r="2.15"/>
<circle cx="500.4" cy="489.5" r="2.15"/>
<circle cx="532.2" cy="489.5" r="2.15"/>
<circle cx="474.2" cy="482.0" r="2.15"/>
<circle cx="484.7" cy="482.6" r="2.15"/>
<circle cx="487.6" cy="498.8" r="2.15"/>
<circle cx="470.4" cy="486.3" r="2.15"/>
<circle cx="472.7" cy="496.8" r="2.15"/>
<circle cx="484.6" cy="479.9" r="2.15"/>
<circle cx="475.2" cy="486.7" r="2.15"/>
<circle cx="491.0" cy="491.8" r="2.15"/>
<circle cx="464.6" cy="489.9" r="2.15"/>
<circle cx="524.1" cy="489.4" r="2.15"/>
<circle cx="488.3" cy="491.4" r="2.15"/>
<circle cx="485.4" cy="502.5" r="2.15"/>
<circle cx="526.5" cy="481.0" r="2.15"/>
<circle cx="493.0" cy="477.4" r="2.15"/>
<circle cx="497.8" cy="488.5" r="2.15"/>
<circle cx="465.9" cy="491.6" r="2.15"/>
<circle cx="466.3" cy="487.5" r="2.15"/>
<circle cx="516.3" cy="488.4" r="2.15"/>
<circle cx="486.2" cy="481.5" r="2.15"/>
<circle cx="515.7" cy="492.4" r="2.15"/>
<circle cx="486.5" cy="487.3" r="2.15"/>
<circle cx="498.2" cy="495.1" r="2.15"/>
<circle cx="475.0" cy="490.0" r="2.15"/>
<circle cx="507.6" cy="500.9" r="2.15"/>
<circle cx="474.5" cy="483.5" r="2.15"/>
<circle cx="527.8" cy="489.7" r="2.15"/>
<circle cx="480.7" cy="499.1" r="2.15"/>
<circle cx="482.0" cy="483.3" r="2.15"/>
<circle cx="527.1" cy="494.5" r="2.15"/>
<circle cx="517.4" cy="498.4" r="2.15"/>
<circle cx="500.5" cy="498.9" r="2.15"/>
<circle cx="461.4" cy="495.9" r="2.15"/>
<circle cx="491.2" cy="478.4" r="2.15"/>
<circle cx="478.8" cy="483.3" r="2.15"/>
<circle cx="498.4" cy="482.9" r="2.15"/>
<circle cx="490.5" cy="485.3" r="2.15"/>
<circle cx="522.6" cy="496.3" r="2.15"/>
<circle cx="524.6" cy="492.0" r="2.15"/>
<circle cx="486.8" cy="497.2" r="2.15"/>
<circle cx="488.5" cy="493.7" r="2.15"/>
<circle cx="522.3" cy="478.9" r="2.15"/>
<circle cx="513.7" cy="477.5" r="2.15"/>
<circle cx="534.1" cy="477.7" r="2.15"/>
<circle cx="529.0" cy="493.6" r="2.15"/>
<circle cx="517.1" cy="492.1" r="2.15"/>
<circle cx="480.7" cy="485.2" r="2.15"/>
<circle cx="499.7" cy="478.3" r="2.15"/>
<circle cx="488.6" cy="487.3" r="2.15"/>
<circle cx="464.0" cy="481.4" r="2.15"/>
<circle cx="470.5" cy="496.3" r="2.15"/>
<circle cx="459.9" cy="490.8" r="2.15"/>
<circle cx="525.6" cy="490.9" r="2.15"/>
<circle cx="496.2" cy="491.0" r="2.15"/>
<circle cx="466.8" cy="484.3" r="2.15"/>
<circle cx="530.9" cy="491.7" r="2.15"/>
<circle cx="497.1" cy="485.5" r="2.15"/>
<circle cx="500.4" cy="483.8" r="2.15"/>
<circle cx="496.0" cy="478.7" r="2.15"/>
<circle cx="498.0" cy="502.7" r="2.15"/>
<circle cx="535.1" cy="483.3" r="2.15"/>
<circle cx="500.3" cy="496.8" r="2.15"/>
<circle cx="510.5" cy="478.6" r="2.15"/>
<circle cx="535.8" cy="484.9" r="2.15"/>
<circle cx="508.3" cy="479.1" r="2.15"/>
<circle cx="458.9" cy="492.1" r="2.15"/>
<circle cx="510.8" cy="488.6" r="2.15"/>
<circle cx="508.9" cy="476.1" r="2.15"/>
<circle cx="515.8" cy="500.4" r="2.15"/>
<circle cx="486.2" cy="485.5" r="2.15"/>
<circle cx="481.2" cy="493.4" r="2.15"/>
<circle cx="477.7" cy="499.0" r="2.15"/>
<circle cx="528.6" cy="487.8" r="2.15"/>
<circle cx="504.7" cy="496.0" r="2.15"/>
<circle cx="506.5" cy="488.0" r="2.15"/>
<circle cx="520.0" cy="481.2" r="2.15"/>
<circle cx="516.6" cy="481.1" r="2.15"/>
<circle cx="483.5" cy="499.3" r="2.15"/>
<circle cx="532.5" cy="487.1" r="2.15"/>
<circle cx="467.9" cy="495.2" r="2.15"/>
<circle cx="511.3" cy="482.2" r="2.15"/>
<circle cx="461.0" cy="488.9" r="2.15"/>
<circle cx="477.9" cy="489.9" r="2.15"/>
<circle cx="490.0" cy="481.0" r="2.15"/>
<circle cx="515.1" cy="480.4" r="2.15"/>
<circle cx="511.2" cy="499.7" r="2.15"/>
<circle cx="498.5" cy="500.2" r="2.15"/>
<circle cx="507.9" cy="488.4" r="2.15"/>
<circle cx="523.2" cy="492.4" r="2.15"/>
<circle cx="475.9" cy="481.3" r="2.15"/>
<circle cx="506.3" cy="480.8" r="2.15"/>
<circle cx="503.4" cy="482.6" r="2.15"/>
<circle cx="475.6" cy="491.9" r="2.15"/>
<circle cx="533.8" cy="486.4" r="2.15"/>
<circle cx="465.6" cy="486.0" r="2.15"/>
<circle cx="512.0" cy="487.7" r="2.15"/>
<circle cx="488.2" cy="483.9" r="2.15"/>
<circle cx="469.0" cy="489.0" r="2.15"/>
<circle cx="501.5" cy="494.0" r="2.15"/>
<circle cx="534.0" cy="489.6" r="2.15"/>
<circle cx="503.6" cy="502.1" r="2.15"/>
<circle cx="493.5" cy="480.2" r="2.15"/>
<circle cx="485.9" cy="490.1" r="2.15"/>
<circle cx="507.1" cy="482.9" r="2.15"/>
<circle cx="502.4" cy="495.4" r="2.15"/>
<circle cx="492.8" cy="495.0" r="2.15"/>
<circle cx="480.4" cy="480.2" r="2.15"/>
<circle cx="492.7" cy="496.9" r="2.15"/>
<circle cx="485.1" cy="478.4" r="2.15"/>
<circle cx="504.2" cy="491.6" r="2.15"/>
<circle cx="472.0" cy="488.9" r="2.15"/>
<circle cx="464.1" cy="499.1" r="2.15"/>
<circle cx="499.7" cy="494.7" r="2.15"/>
<circle cx="522.2" cy="488.4" r="2.15"/>
<circle cx="471.0" cy="487.7" r="2.15"/>
<circle cx="503.2" cy="494.0" r="2.15"/>
<circle cx="498.4" cy="491.0" r="2.15"/>
<circle cx="533.3" cy="491.9" r="2.15"/>
<circle cx="474.3" cy="499.2" r="2.15"/>
<circle cx="468.0" cy="483.2" r="2.15"/>
<circle cx="461.9" cy="487.6" r="2.15"/>
<circle cx="484.0" cy="495.8" r="2.15"/>
<circle cx="508.3" cy="493.5" r="2.15"/>
<circle cx="515.2" cy="476.2" r="2.15"/>
<circle cx="508.5" cy="490.5" r="2.15"/>
<circle cx="516.9" cy="477.9" r="2.15"/>
<circle cx="524.9" cy="485.3" r="2.15"/>
<circle cx="523.5" cy="493.9" r="2.15"/>
<circle cx="530.7" cy="489.6" r="2.15"/>
<circle cx="469.5" cy="492.7" r="2.15"/>
<circle cx="508.9" cy="483.7" r="2.15"/>
<circle cx="508.5" cy="497.9" r="2.15"/>
<circle cx="467.5" cy="500.3" r="2.15"/>
<circle cx="516.8" cy="496.7" r="2.15"/>
<circle cx="478.8" cy="495.6" r="2.15"/>
<circle cx="515.0" cy="490.1" r="2.15"/>
<circle cx="483.9" cy="501.2" r="2.15"/>
<circle cx="494.0" cy="483.5" r="2.15"/>
<circle cx="497.2" cy="496.3" r="2.15"/>
<circle cx="503.3" cy="486.1" r="2.15"/>
<circle cx="477.9" cy="484.6" r="2.15"/>
<circle cx="528.7" cy="481.8" r="2.15"/>
<circle cx="508.4" cy="499.4" r="2.15"/>
<circle cx="486.0" cy="479.8" r="2.15"/>
<circle cx="512.4" cy="485.8" r="2.15"/>
<circle cx="503.5" cy="500.2" r="2.15"/>
<circle cx="465.0" cy="483.2" r="2.15"/>
<circle cx="478.4" cy="487.3" r="2.15"/>
<circle cx="493.5" cy="481.7" r="2.15"/>
<circle cx="530.7" cy="486.7" r="2.15"/>
<circle cx="491.9" cy="499.9" r="2.15"/>
<circle cx="530.8" cy="477.3" r="2.15"/>
<circle cx="492.4" cy="490.8" r="2.15"/>
<circle cx="515.1" cy="484.0" r="2.15"/>
<circle cx="516.7" cy="485.0" r="2.15"/>
<circle cx="464.5" cy="513.5" r="2.15"/>
<circle cx="442.7" cy="511.5" r="2.15"/>
<circle cx="454.0" cy="504.4" r="2.15"/>
<circle cx="446.2" cy="513.3" r="2.15"/>
<circle cx="469.2" cy="510.5" r="2.15"/>
<circle cx="431.0" cy="509.2" r="2.15"/>
<circle cx="443.4" cy="504.1" r="2.15"/>
<circle cx="437.4" cy="516.0" r="2.15"/>
<circle cx="461.5" cy="514.4" r="2.15"/>
<circle cx="568.0" cy="481.3" r="2.15"/>
<circle cx="563.2" cy="468.4" r="2.15"/>
<circle cx="578.6" cy="479.4" r="2.15"/>
<circle cx="577.2" cy="464.1" r="2.15"/>
<circle cx="552.7" cy="489.7" r="2.15"/>
<circle cx="584.9" cy="461.7" r="2.15"/>
<circle cx="561.3" cy="472.8" r="2.15"/>
<circle cx="545.7" cy="461.3" r="2.15"/>
<circle cx="569.7" cy="462.3" r="2.15"/>
<circle cx="565.5" cy="463.8" r="2.15"/>
<circle cx="547.3" cy="465.0" r="2.15"/>
<circle cx="564.4" cy="473.3" r="2.15"/>
<circle cx="568.2" cy="472.2" r="2.15"/>
<circle cx="562.6" cy="476.4" r="2.15"/>
<circle cx="565.9" cy="476.7" r="2.15"/>
<circle cx="549.8" cy="477.7" r="2.15"/>
<circle cx="558.3" cy="470.8" r="2.15"/>
<circle cx="547.4" cy="474.7" r="2.15"/>
<circle cx="431.9" cy="512.2" r="2.15"/>
<circle cx="436.6" cy="507.6" r="2.15"/>
<circle cx="438.4" cy="508.8" r="2.15"/>
<circle cx="443.5" cy="506.9" r="2.15"/>
<circle cx="448.1" cy="504.1" r="2.15"/>
<circle cx="438.9" cy="516.9" r="2.15"/>
<circle cx="446.3" cy="516.9" r="2.15"/>
<circle cx="452.8" cy="513.4" r="2.15"/>
<circle cx="441.7" cy="514.1" r="2.15"/>
<circle cx="462.0" cy="513.9" r="2.15"/>
<circle cx="467.8" cy="512.2" r="2.15"/>
<circle cx="453.9" cy="507.6" r="2.15"/>
<circle cx="459.7" cy="506.5" r="2.15"/>
<circle cx="466.7" cy="505.3" r="2.15"/>
<circle cx="449.3" cy="508.8" r="2.15"/>
<circle cx="443.5" cy="493.7" r="2.15"/>
<circle cx="445.4" cy="497.2" r="2.15"/>
<circle cx="455.1" cy="498.4" r="2.15"/>
<circle cx="452.8" cy="487.9" r="2.15"/>
<circle cx="453.9" cy="479.8" r="2.15"/>
<circle cx="455.1" cy="483.3" r="2.15"/>
<circle cx="460.9" cy="475.7" r="2.15"/>
<circle cx="476.4" cy="467.1" r="2.15"/>
<circle cx="490.5" cy="512.2" r="2.15"/>
<circle cx="509.0" cy="508.1" r="2.15"/>
<circle cx="494.4" cy="505.3" r="2.15"/>
<circle cx="477.1" cy="506.5" r="2.15"/>
<circle cx="529.1" cy="501.1" r="2.15"/>
<circle cx="515.3" cy="436.3" r="2.15"/>
<circle cx="543.0" cy="412.0" r="2.15"/>
<circle cx="538.4" cy="423.1" r="2.15"/>
<circle cx="544.2" cy="432.4" r="2.15"/>
<circle cx="543.0" cy="438.9" r="2.15"/>
<circle cx="540.7" cy="460.2" r="2.15"/>
<circle cx="541.9" cy="486.8" r="2.15"/>
<circle cx="543.0" cy="471.7" r="2.15"/>
<circle cx="539.6" cy="467.1" r="2.15"/>
<circle cx="576.2" cy="413.4" r="2.15"/>
<circle cx="577.4" cy="415.3" r="2.15"/>
<circle cx="554.3" cy="417.4" r="2.15"/>
<circle cx="560.7" cy="417.4" r="2.15"/>
<circle cx="563.1" cy="422.7" r="2.15"/>
<circle cx="556.1" cy="427.8" r="2.15"/>
<circle cx="559.3" cy="430.1" r="2.15"/>
<circle cx="554.7" cy="436.6" r="2.15"/>
<circle cx="562.4" cy="437.5" r="2.15"/>
<circle cx="552.6" cy="438.9" r="2.15"/>
<circle cx="560.7" cy="438.9" r="2.15"/>
<circle cx="545.0" cy="432.4" r="2.15"/>
<circle cx="592.4" cy="435.2" r="2.15"/>
<circle cx="634.8" cy="435.2" r="2.15"/>
<circle cx="571.6" cy="444.4" r="2.15"/>
<circle cx="617.9" cy="444.0" r="2.15"/>
<circle cx="609.8" cy="446.3" r="2.15"/>
<circle cx="612.6" cy="446.3" r="2.15"/>
<circle cx="557.7" cy="447.0" r="2.15"/>
<circle cx="565.8" cy="449.8" r="2.15"/>
<circle cx="564.7" cy="452.1" r="2.15"/>
<circle cx="575.5" cy="449.8" r="2.15"/>
<circle cx="648.0" cy="447.4" r="2.15"/>
<circle cx="675.1" cy="439.8" r="2.15"/>
<circle cx="545.0" cy="455.5" r="2.15"/>
<circle cx="550.8" cy="457.4" r="2.15"/>
<circle cx="555.4" cy="456.7" r="2.15"/>
<circle cx="563.5" cy="460.2" r="2.15"/>
<circle cx="567.0" cy="457.9" r="2.15"/>
<circle cx="575.1" cy="455.5" r="2.15"/>
<circle cx="574.6" cy="460.6" r="2.15"/>
<circle cx="580.2" cy="459.7" r="2.15"/>
<circle cx="589.4" cy="457.9" r="2.15"/>
<circle cx="591.3" cy="460.6" r="2.15"/>
<circle cx="605.6" cy="455.5" r="2.15"/>
<circle cx="604.7" cy="461.3" r="2.15"/>
<circle cx="612.6" cy="456.2" r="2.15"/>
<circle cx="620.7" cy="454.8" r="2.15"/>
<circle cx="636.4" cy="454.8" r="2.15"/>
<circle cx="642.2" cy="456.0" r="2.15"/>
<circle cx="642.7" cy="457.9" r="2.15"/>
<circle cx="617.9" cy="461.3" r="2.15"/>
<circle cx="629.0" cy="462.9" r="2.15"/>
<circle cx="596.4" cy="463.6" r="2.15"/>
<circle cx="546.2" cy="462.0" r="2.15"/>
<circle cx="551.9" cy="463.6" r="2.15"/>
<circle cx="557.7" cy="462.5" r="2.15"/>
<circle cx="549.6" cy="467.1" r="2.15"/>
<circle cx="554.3" cy="468.3" r="2.15"/>
<circle cx="558.9" cy="467.1" r="2.15"/>
<circle cx="565.8" cy="466.7" r="2.15"/>
<circle cx="568.1" cy="467.8" r="2.15"/>
<circle cx="572.8" cy="467.8" r="2.15"/>
<circle cx="577.4" cy="467.8" r="2.15"/>
<circle cx="579.7" cy="466.0" r="2.15"/>
<circle cx="584.3" cy="467.8" r="2.15"/>
<circle cx="589.0" cy="469.4" r="2.15"/>
<circle cx="593.6" cy="464.8" r="2.15"/>
<circle cx="598.2" cy="467.1" r="2.15"/>
<circle cx="606.3" cy="468.3" r="2.15"/>
<circle cx="613.3" cy="469.0" r="2.15"/>
<circle cx="644.1" cy="467.6" r="2.15"/>
<circle cx="605.2" cy="470.6" r="2.15"/>
<circle cx="602.9" cy="473.6" r="2.15"/>
<circle cx="592.4" cy="472.9" r="2.15"/>
<circle cx="587.8" cy="474.1" r="2.15"/>
<circle cx="576.2" cy="471.7" r="2.15"/>
<circle cx="569.3" cy="474.5" r="2.15"/>
<circle cx="566.3" cy="475.2" r="2.15"/>
<circle cx="558.9" cy="475.2" r="2.15"/>
<circle cx="553.1" cy="474.1" r="2.15"/>
<circle cx="551.9" cy="477.5" r="2.15"/>
<circle cx="545.0" cy="476.4" r="2.15"/>
<circle cx="615.6" cy="475.2" r="2.15"/>
<circle cx="620.2" cy="474.5" r="2.15"/>
<circle cx="624.8" cy="474.5" r="2.15"/>
<circle cx="567.0" cy="479.8" r="2.15"/>
<circle cx="557.7" cy="482.2" r="2.15"/>
<circle cx="551.9" cy="482.2" r="2.15"/>
<circle cx="553.1" cy="479.8" r="2.15"/>
<circle cx="546.2" cy="482.2" r="2.15"/>
<circle cx="587.8" cy="479.8" r="2.15"/>
<circle cx="582.0" cy="482.9" r="2.15"/>
<circle cx="589.4" cy="485.2" r="2.15"/>
<circle cx="599.4" cy="483.8" r="2.15"/>
<circle cx="606.3" cy="482.9" r="2.15"/>
<circle cx="620.7" cy="484.5" r="2.15"/>
<circle cx="570.9" cy="485.6" r="2.15"/>
<circle cx="598.7" cy="489.6" r="2.15"/>
<circle cx="606.3" cy="489.6" r="2.15"/>
<circle cx="576.2" cy="492.1" r="2.15"/>
<circle cx="549.2" cy="490.7" r="2.15"/>
<circle cx="551.5" cy="494.4" r="2.15"/>
<circle cx="557.7" cy="492.6" r="2.15"/>
<circle cx="563.5" cy="493.3" r="2.15"/>
<circle cx="560.7" cy="496.0" r="2.15"/>
<circle cx="538.5" cy="464.9" r="2.15"/>
<circle cx="539.2" cy="469.8" r="2.15"/>
<circle cx="547.8" cy="472.0" r="2.15"/>
<circle cx="550.6" cy="469.8" r="2.15"/>
<circle cx="548.5" cy="464.9" r="2.15"/>
<circle cx="557.3" cy="464.1" r="2.15"/>
<circle cx="556.3" cy="471.3" r="2.15"/>
<circle cx="562.7" cy="469.8" r="2.15"/>
<circle cx="532.8" cy="459.9" r="2.15"/>
<circle cx="530.7" cy="462.7" r="2.15"/>
<circle cx="526.4" cy="456.6" r="2.15"/>
<circle cx="534.2" cy="469.1" r="2.15"/>
<circle cx="535.7" cy="474.8" r="2.15"/>
<circle cx="528.5" cy="472.0" r="2.15"/>
<circle cx="565.6" cy="465.6" r="2.15"/>
</g>
<path d="M400.00 319.60H700.80V531.40" fill="none" stroke="#404040" stroke-width="1.7"/>
<path d="M403.40 319.60V531.40" fill="none" stroke="#111" stroke-width="1.3"/>
<path d="M400.00 528.00H700.80" fill="none" stroke="#333" stroke-width="1.8"/>
<path d="M445.89 528.00v3.4" stroke="#111" stroke-width="1.1"/>
<path d="M488.37 528.00v3.4" stroke="#111" stroke-width="1.1"/>
<path d="M530.86 528.00v3.4" stroke="#111" stroke-width="1.1"/>
<path d="M573.34 528.00v3.4" stroke="#111" stroke-width="1.1"/>
<path d="M615.83 528.00v3.4" stroke="#111" stroke-width="1.1"/>
<path d="M658.31 528.00v3.4" stroke="#111" stroke-width="1.1"/>
<path d="M403.40 493.27h-3.4" stroke="#111" stroke-width="1.1"/>
<path d="M403.40 458.53h-3.4" stroke="#111" stroke-width="1.1"/>
<path d="M403.40 423.80h-3.4" stroke="#111" stroke-width="1.1"/>
<path d="M403.40 389.07h-3.4" stroke="#111" stroke-width="1.1"/>
<path d="M403.40 354.33h-3.4" stroke="#111" stroke-width="1.1"/>
<text class="tk" x="403.55" y="542.60" text-anchor="middle">0</text>
<text class="tk" x="445.85" y="542.60" text-anchor="middle">20</text>
<text class="tk" x="488.15" y="542.60" text-anchor="middle">40</text>
<text class="tk" x="530.45" y="542.60" text-anchor="middle">60</text>
<text class="tk" x="572.75" y="542.60" text-anchor="middle">80</text>
<text class="tk" x="615.05" y="542.60" text-anchor="middle">100</text>
<text class="tk" x="657.35" y="542.60" text-anchor="middle">120</text>
<text class="tk" x="696.85" y="542.60" text-anchor="middle">140</text>
<text class="tk" x="397.70" y="529.20" text-anchor="end">0</text>
<text class="tk" x="397.70" y="496.48" text-anchor="end">20</text>
<text class="tk" x="397.70" y="461.77" text-anchor="end">40</text>
<text class="tk" x="397.70" y="427.05" text-anchor="end">60</text>
<text class="tk" x="397.70" y="392.34" text-anchor="end">80</text>
<text class="tk" x="397.70" y="357.62" text-anchor="end">100</text>
<text class="tk" x="397.70" y="328.90" text-anchor="end">120</text>
<text class="an" x="406.40" y="337.00">R: 0.63</text>
<text class="an" x="406.40" y="353.50">p-value: &lt;0.0001</text>
<text class="ti" x="535.70" y="313.50" text-anchor="middle">BCC</text>
<text class="ax" x="541.60" y="556.60" text-anchor="middle"><tspan font-size="14.9px">&#916;</tspan><tspan dx="0.8">Np63</tspan><tspan dx="0.3" font-size="17.6px">&#945;</tspan></text>
<text class="ax" transform="translate(371.60 420.90) rotate(-90)" text-anchor="middle">ERK3</text>
<text class="le" x="355.40" y="294.90">D.</text>
</g>
</svg></body></html>
